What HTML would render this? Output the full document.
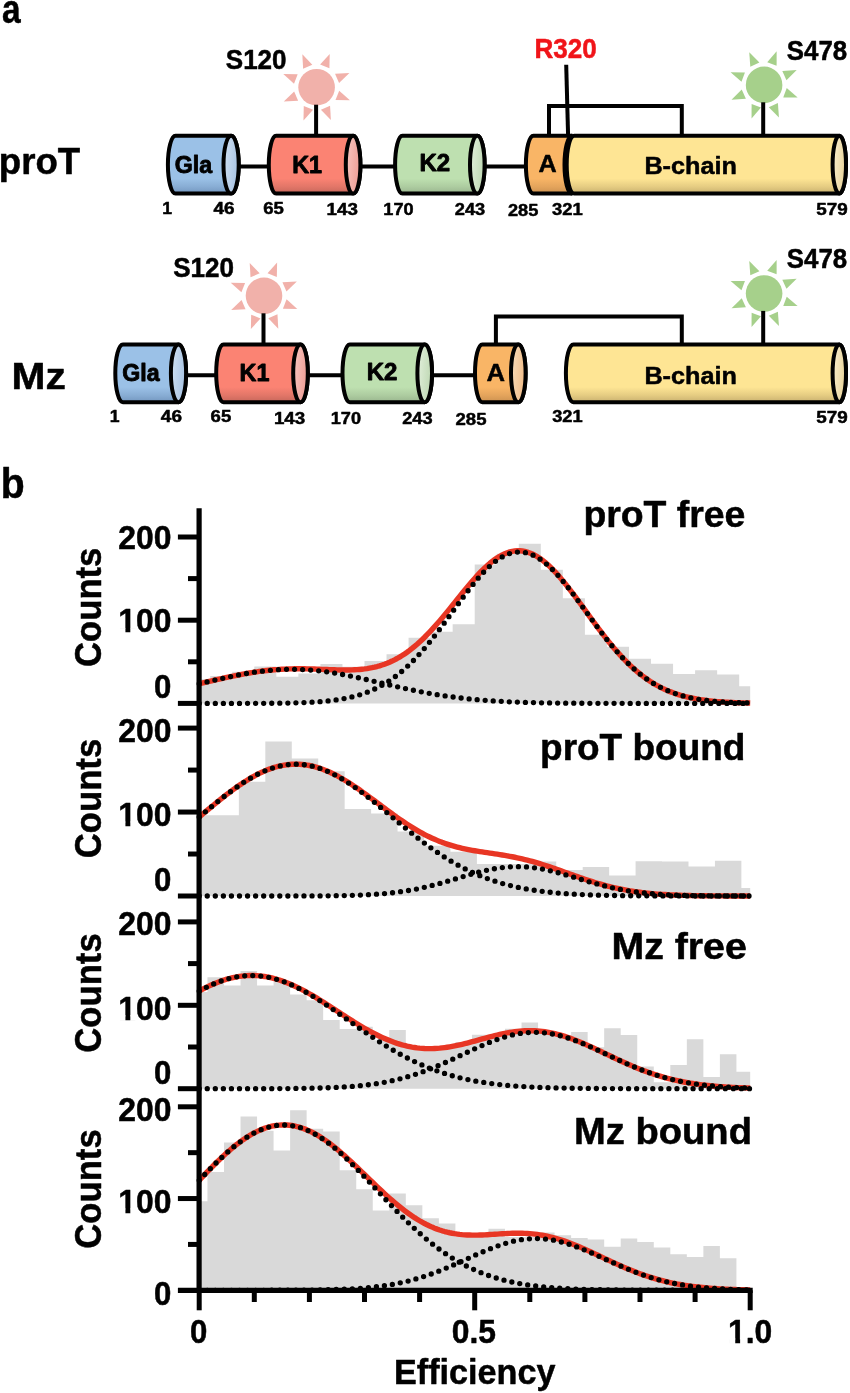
<!DOCTYPE html>
<html lang="en"><head><meta charset="utf-8"><title>Figure</title>
<style>html,body{margin:0;padding:0;background:#fff}svg{display:block;opacity:0.9999;will-change:transform}</style></head>
<body>
<svg width="850" height="1393" viewBox="0 0 850 1393" font-family="'Liberation Sans', Arial, Helvetica, sans-serif" font-weight="bold">
<defs>
<linearGradient id="gBlue" x1="0" y1="0" x2="0" y2="1"><stop offset="0" stop-color="#9bc1e7"/><stop offset="0.74" stop-color="#9bc1e7"/><stop offset="0.88" stop-color="#88add4"/><stop offset="1" stop-color="#7396bf"/></linearGradient>
<linearGradient id="gRed" x1="0" y1="0" x2="0" y2="1"><stop offset="0" stop-color="#fb8373"/><stop offset="0.74" stop-color="#fb8373"/><stop offset="0.88" stop-color="#e27668"/><stop offset="1" stop-color="#c6675b"/></linearGradient>
<linearGradient id="gGreen" x1="0" y1="0" x2="0" y2="1"><stop offset="0" stop-color="#bee0b0"/><stop offset="0.74" stop-color="#bee0b0"/><stop offset="0.88" stop-color="#adcca0"/><stop offset="1" stop-color="#99b58e"/></linearGradient>
<linearGradient id="gOr" x1="0" y1="0" x2="0" y2="1"><stop offset="0" stop-color="#f9b566"/><stop offset="0.74" stop-color="#f9b566"/><stop offset="0.88" stop-color="#e4a45c"/><stop offset="1" stop-color="#cc9150"/></linearGradient>
<linearGradient id="gYel" x1="0" y1="0" x2="0" y2="1"><stop offset="0" stop-color="#fee594"/><stop offset="0.74" stop-color="#fee594"/><stop offset="0.88" stop-color="#e5cc82"/><stop offset="1" stop-color="#c8b06f"/></linearGradient>
<linearGradient id="cBlue" x1="0" y1="0" x2="1" y2="0.3"><stop offset="0" stop-color="#d3e3f4"/><stop offset="1" stop-color="#a9c4e3"/></linearGradient>
<linearGradient id="cRed" x1="0" y1="0" x2="1" y2="0.3"><stop offset="0" stop-color="#f9c9c3"/><stop offset="1" stop-color="#ee9f97"/></linearGradient>
<linearGradient id="cGreen" x1="0" y1="0" x2="1" y2="0.3"><stop offset="0" stop-color="#e4f1de"/><stop offset="1" stop-color="#c0d9b5"/></linearGradient>
<linearGradient id="cOr" x1="0" y1="0" x2="1" y2="0.3"><stop offset="0" stop-color="#fadfbe"/><stop offset="1" stop-color="#f0bd8a"/></linearGradient>
<linearGradient id="cYel" x1="0" y1="0" x2="1" y2="0.3"><stop offset="0" stop-color="#fcf2d3"/><stop offset="1" stop-color="#e8d39b"/></linearGradient>
</defs>
<rect width="850" height="1393" fill="#fff"/>
<text x="2.05" y="22.77" font-size="40.29" fill="#000" stroke="#000" stroke-width="0.5" stroke-linejoin="round" textLength="18.61" lengthAdjust="spacingAndGlyphs" >a</text>
<text x="0.70" y="498.18" font-size="41.69" fill="#000" stroke="#000" stroke-width="0.5" stroke-linejoin="round" textLength="23.95" lengthAdjust="spacingAndGlyphs" >b</text>
<text x="-1.23" y="174.28" font-size="37.69" fill="#000" stroke="#000" stroke-width="0.5" stroke-linejoin="round" textLength="81.41" lengthAdjust="spacingAndGlyphs" >proT</text>
<line x1="236" y1="166.6" x2="270" y2="166.6" stroke="#000" stroke-width="4.0" stroke-linecap="butt"/>
<line x1="358" y1="166.6" x2="397" y2="166.6" stroke="#000" stroke-width="4.0" stroke-linecap="butt"/>
<line x1="483" y1="166.6" x2="528" y2="166.6" stroke="#000" stroke-width="4.0" stroke-linecap="butt"/>
<path d="M175.50,135.80 L231.10,135.80 A7.6,28.90 0 0 1 231.10,193.60 L175.50,193.60 A7.6,28.90 0 0 1 175.50,135.80 Z" fill="url(#gBlue)" stroke="#000" stroke-width="4.0" stroke-linejoin="round"/>
<ellipse cx="231.10" cy="164.70" rx="7.6" ry="28.90" fill="url(#cBlue)" stroke="#000" stroke-width="4.0"/>
<path d="M276.10,135.80 L353.10,135.80 A7.3,28.90 0 0 1 353.10,193.60 L276.10,193.60 A7.3,28.90 0 0 1 276.10,135.80 Z" fill="url(#gRed)" stroke="#000" stroke-width="4.0" stroke-linejoin="round"/>
<ellipse cx="353.10" cy="164.70" rx="7.3" ry="28.90" fill="url(#cRed)" stroke="#000" stroke-width="4.0"/>
<path d="M402.40,135.80 L477.30,135.80 A7.3,28.90 0 0 1 477.30,193.60 L402.40,193.60 A7.3,28.90 0 0 1 402.40,135.80 Z" fill="url(#gGreen)" stroke="#000" stroke-width="4.0" stroke-linejoin="round"/>
<ellipse cx="477.30" cy="164.70" rx="7.3" ry="28.90" fill="url(#cGreen)" stroke="#000" stroke-width="4.0"/>
<path d="M572.6,135.80 L533.40,135.80 A7.5,28.90 0 0 0 533.40,193.60 L572.6,193.60" fill="url(#gOr)" stroke="#000" stroke-width="4.0"/>
<path d="M572.0,135.80 A7.5,28.90 0 0 0 572.0,193.60" fill="none" stroke="#000" stroke-width="4.0"/>
<path d="M574.20,135.80 L839.30,135.80 A6.7,28.90 0 0 1 839.30,193.60 L574.20,193.60 A7.5,28.90 0 0 1 574.20,135.80 Z" fill="url(#gYel)" stroke="#000" stroke-width="4.0" stroke-linejoin="round"/>
<ellipse cx="839.30" cy="164.70" rx="6.7" ry="28.90" fill="url(#cYel)" stroke="#000" stroke-width="4.0"/>
<g fill="#f1b1aa">
<circle cx="316.6" cy="87.2" r="18.3"/>
<path d="M311.60,64.90 L321.60,64.90 L316.60,51.40 Z" transform="rotate(21.5 316.6 87.2)"/>
<path d="M311.60,64.90 L321.60,64.90 L316.60,51.40 Z" transform="rotate(66.5 316.6 87.2)"/>
<path d="M311.60,64.90 L321.60,64.90 L316.60,51.40 Z" transform="rotate(111.5 316.6 87.2)"/>
<path d="M311.60,64.90 L321.60,64.90 L316.60,51.40 Z" transform="rotate(156.5 316.6 87.2)"/>
<path d="M311.60,64.90 L321.60,64.90 L316.60,51.40 Z" transform="rotate(201.5 316.6 87.2)"/>
<path d="M311.60,64.90 L321.60,64.90 L316.60,51.40 Z" transform="rotate(246.5 316.6 87.2)"/>
<path d="M311.60,64.90 L321.60,64.90 L316.60,51.40 Z" transform="rotate(291.5 316.6 87.2)"/>
<path d="M311.60,64.90 L321.60,64.90 L316.60,51.40 Z" transform="rotate(336.5 316.6 87.2)"/>
</g>
<line x1="316.1" y1="104.7" x2="316.1" y2="135.8" stroke="#000" stroke-width="4.0" stroke-linecap="butt"/>
<g fill="#a6d08b">
<circle cx="764.1" cy="84.9" r="18.3"/>
<path d="M759.10,62.60 L769.10,62.60 L764.10,49.10 Z" transform="rotate(20.5 764.1 84.9)"/>
<path d="M759.10,62.60 L769.10,62.60 L764.10,49.10 Z" transform="rotate(65.5 764.1 84.9)"/>
<path d="M759.10,62.60 L769.10,62.60 L764.10,49.10 Z" transform="rotate(110.5 764.1 84.9)"/>
<path d="M759.10,62.60 L769.10,62.60 L764.10,49.10 Z" transform="rotate(155.5 764.1 84.9)"/>
<path d="M759.10,62.60 L769.10,62.60 L764.10,49.10 Z" transform="rotate(200.5 764.1 84.9)"/>
<path d="M759.10,62.60 L769.10,62.60 L764.10,49.10 Z" transform="rotate(245.5 764.1 84.9)"/>
<path d="M759.10,62.60 L769.10,62.60 L764.10,49.10 Z" transform="rotate(290.5 764.1 84.9)"/>
<path d="M759.10,62.60 L769.10,62.60 L764.10,49.10 Z" transform="rotate(335.5 764.1 84.9)"/>
</g>
<line x1="763.2" y1="102.3" x2="763.2" y2="135.8" stroke="#000" stroke-width="4.0" stroke-linecap="butt"/>
<text x="225.77" y="68.67" font-size="27.09" fill="#000" stroke="#000" stroke-width="0.5" stroke-linejoin="round" textLength="60.84" lengthAdjust="spacingAndGlyphs" >S120</text>
<text x="786.87" y="59.58" font-size="27.09" fill="#000" stroke="#000" stroke-width="0.5" stroke-linejoin="round" textLength="60.36" lengthAdjust="spacingAndGlyphs" >S478</text>
<text x="174.82" y="172.68" font-size="24.51" fill="#000" stroke="#000" stroke-width="0.9" stroke-linejoin="round" textLength="37.34" lengthAdjust="spacingAndGlyphs" >Gla</text>
<text x="292.13" y="172.88" font-size="24.51" fill="#000" stroke="#000" stroke-width="0.9" stroke-linejoin="round" textLength="29.88" lengthAdjust="spacingAndGlyphs" >K1</text>
<text x="419.39" y="171.28" font-size="24.51" fill="#000" stroke="#000" stroke-width="0.9" stroke-linejoin="round" textLength="30.70" lengthAdjust="spacingAndGlyphs" >K2</text>
<text x="644.41" y="174.47" font-size="24.59" fill="#000" stroke="#000" stroke-width="0.5" stroke-linejoin="round" textLength="92.51" lengthAdjust="spacingAndGlyphs" >B-chain</text>
<text x="162.39" y="213.88" font-size="17.09" fill="#000" stroke="#000" stroke-width="0.5" stroke-linejoin="round" textLength="9.82" lengthAdjust="spacingAndGlyphs" >1</text>
<text x="213.47" y="213.88" font-size="17.09" fill="#000" stroke="#000" stroke-width="0.5" stroke-linejoin="round" textLength="21.09" lengthAdjust="spacingAndGlyphs" >46</text>
<text x="263.20" y="213.88" font-size="17.09" fill="#000" stroke="#000" stroke-width="0.5" stroke-linejoin="round" textLength="20.66" lengthAdjust="spacingAndGlyphs" >65</text>
<text x="326.52" y="215.18" font-size="17.09" fill="#000" stroke="#000" stroke-width="0.5" stroke-linejoin="round" textLength="31.35" lengthAdjust="spacingAndGlyphs" >143</text>
<text x="383.36" y="214.97" font-size="17.09" fill="#000" stroke="#000" stroke-width="0.5" stroke-linejoin="round" textLength="30.28" lengthAdjust="spacingAndGlyphs" >170</text>
<text x="454.81" y="214.97" font-size="17.09" fill="#000" stroke="#000" stroke-width="0.5" stroke-linejoin="round" textLength="30.44" lengthAdjust="spacingAndGlyphs" >243</text>
<text x="816.18" y="214.88" font-size="17.09" fill="#000" stroke="#000" stroke-width="0.5" stroke-linejoin="round" textLength="31.49" lengthAdjust="spacingAndGlyphs" >579</text>
<path d="M549,135.8 L549,105.9 L681.8,105.9 L681.8,135.8" fill="none" stroke="#000" stroke-width="4.0" stroke-linejoin="miter"/>
<line x1="566.2" y1="64.7" x2="568.1" y2="135.8" stroke="#000" stroke-width="4.0" stroke-linecap="butt"/>
<text x="534.46" y="57.98" font-size="27.09" fill="#f01419" stroke="#f01419" stroke-width="0.5" stroke-linejoin="round" textLength="62.25" lengthAdjust="spacingAndGlyphs" >R320</text>
<text x="538.62" y="172.28" font-size="24.69" fill="#000" stroke="#000" stroke-width="0.5" stroke-linejoin="round" textLength="18.22" lengthAdjust="spacingAndGlyphs" >A</text>
<text x="508.01" y="215.97" font-size="17.09" fill="#000" stroke="#000" stroke-width="0.5" stroke-linejoin="round" textLength="30.36" lengthAdjust="spacingAndGlyphs" >285</text>
<text x="551.99" y="214.57" font-size="17.09" fill="#000" stroke="#000" stroke-width="0.5" stroke-linejoin="round" textLength="30.79" lengthAdjust="spacingAndGlyphs" >321</text>
<text x="11.50" y="389.48" font-size="37.29" fill="#000" stroke="#000" stroke-width="0.5" stroke-linejoin="round" textLength="54.29" lengthAdjust="spacingAndGlyphs" >Mz</text>
<line x1="183.4" y1="375.2" x2="217.4" y2="375.2" stroke="#000" stroke-width="4.0" stroke-linecap="butt"/>
<line x1="305.4" y1="375.2" x2="344.4" y2="375.2" stroke="#000" stroke-width="4.0" stroke-linecap="butt"/>
<line x1="430.4" y1="375.2" x2="477" y2="375.2" stroke="#000" stroke-width="4.0" stroke-linecap="butt"/>
<path d="M122.90,344.40 L178.50,344.40 A7.6,28.90 0 0 1 178.50,402.20 L122.90,402.20 A7.6,28.90 0 0 1 122.90,344.40 Z" fill="url(#gBlue)" stroke="#000" stroke-width="4.0" stroke-linejoin="round"/>
<ellipse cx="178.50" cy="373.30" rx="7.6" ry="28.90" fill="url(#cBlue)" stroke="#000" stroke-width="4.0"/>
<path d="M223.50,344.40 L300.50,344.40 A7.3,28.90 0 0 1 300.50,402.20 L223.50,402.20 A7.3,28.90 0 0 1 223.50,344.40 Z" fill="url(#gRed)" stroke="#000" stroke-width="4.0" stroke-linejoin="round"/>
<ellipse cx="300.50" cy="373.30" rx="7.3" ry="28.90" fill="url(#cRed)" stroke="#000" stroke-width="4.0"/>
<path d="M349.80,344.40 L424.70,344.40 A7.3,28.90 0 0 1 424.70,402.20 L349.80,402.20 A7.3,28.90 0 0 1 349.80,344.40 Z" fill="url(#gGreen)" stroke="#000" stroke-width="4.0" stroke-linejoin="round"/>
<ellipse cx="424.70" cy="373.30" rx="7.3" ry="28.90" fill="url(#cGreen)" stroke="#000" stroke-width="4.0"/>
<path d="M482.30,344.40 L518.30,344.40 A7.3,28.90 0 0 1 518.30,402.20 L482.30,402.20 A7.3,28.90 0 0 1 482.30,344.40 Z" fill="url(#gOr)" stroke="#000" stroke-width="4.0" stroke-linejoin="round"/>
<ellipse cx="518.30" cy="373.30" rx="7.3" ry="28.90" fill="url(#cOr)" stroke="#000" stroke-width="4.0"/>
<path d="M573.40,344.40 L839.30,344.40 A6.7,28.90 0 0 1 839.30,402.20 L573.40,402.20 A7.5,28.90 0 0 1 573.40,344.40 Z" fill="url(#gYel)" stroke="#000" stroke-width="4.0" stroke-linejoin="round"/>
<ellipse cx="839.30" cy="373.30" rx="6.7" ry="28.90" fill="url(#cYel)" stroke="#000" stroke-width="4.0"/>
<g fill="#f1b1aa">
<circle cx="264.0" cy="295.8" r="18.3"/>
<path d="M259.00,273.50 L269.00,273.50 L264.00,260.00 Z" transform="rotate(21.5 264.0 295.8)"/>
<path d="M259.00,273.50 L269.00,273.50 L264.00,260.00 Z" transform="rotate(66.5 264.0 295.8)"/>
<path d="M259.00,273.50 L269.00,273.50 L264.00,260.00 Z" transform="rotate(111.5 264.0 295.8)"/>
<path d="M259.00,273.50 L269.00,273.50 L264.00,260.00 Z" transform="rotate(156.5 264.0 295.8)"/>
<path d="M259.00,273.50 L269.00,273.50 L264.00,260.00 Z" transform="rotate(201.5 264.0 295.8)"/>
<path d="M259.00,273.50 L269.00,273.50 L264.00,260.00 Z" transform="rotate(246.5 264.0 295.8)"/>
<path d="M259.00,273.50 L269.00,273.50 L264.00,260.00 Z" transform="rotate(291.5 264.0 295.8)"/>
<path d="M259.00,273.50 L269.00,273.50 L264.00,260.00 Z" transform="rotate(336.5 264.0 295.8)"/>
</g>
<line x1="263.5" y1="313.3" x2="263.5" y2="344.4" stroke="#000" stroke-width="4.0" stroke-linecap="butt"/>
<g fill="#a6d08b">
<circle cx="764.1" cy="293.5" r="18.3"/>
<path d="M759.10,271.20 L769.10,271.20 L764.10,257.70 Z" transform="rotate(20.5 764.1 293.5)"/>
<path d="M759.10,271.20 L769.10,271.20 L764.10,257.70 Z" transform="rotate(65.5 764.1 293.5)"/>
<path d="M759.10,271.20 L769.10,271.20 L764.10,257.70 Z" transform="rotate(110.5 764.1 293.5)"/>
<path d="M759.10,271.20 L769.10,271.20 L764.10,257.70 Z" transform="rotate(155.5 764.1 293.5)"/>
<path d="M759.10,271.20 L769.10,271.20 L764.10,257.70 Z" transform="rotate(200.5 764.1 293.5)"/>
<path d="M759.10,271.20 L769.10,271.20 L764.10,257.70 Z" transform="rotate(245.5 764.1 293.5)"/>
<path d="M759.10,271.20 L769.10,271.20 L764.10,257.70 Z" transform="rotate(290.5 764.1 293.5)"/>
<path d="M759.10,271.20 L769.10,271.20 L764.10,257.70 Z" transform="rotate(335.5 764.1 293.5)"/>
</g>
<line x1="763.2" y1="310.9" x2="763.2" y2="344.4" stroke="#000" stroke-width="4.0" stroke-linecap="butt"/>
<text x="173.17" y="276.97" font-size="27.09" fill="#000" stroke="#000" stroke-width="0.5" stroke-linejoin="round" textLength="60.84" lengthAdjust="spacingAndGlyphs" >S120</text>
<text x="786.87" y="268.18" font-size="27.09" fill="#000" stroke="#000" stroke-width="0.5" stroke-linejoin="round" textLength="60.36" lengthAdjust="spacingAndGlyphs" >S478</text>
<text x="122.22" y="381.27" font-size="24.51" fill="#000" stroke="#000" stroke-width="0.9" stroke-linejoin="round" textLength="37.34" lengthAdjust="spacingAndGlyphs" >Gla</text>
<text x="239.53" y="381.47" font-size="24.51" fill="#000" stroke="#000" stroke-width="0.9" stroke-linejoin="round" textLength="29.88" lengthAdjust="spacingAndGlyphs" >K1</text>
<text x="366.79" y="379.88" font-size="24.51" fill="#000" stroke="#000" stroke-width="0.9" stroke-linejoin="round" textLength="30.70" lengthAdjust="spacingAndGlyphs" >K2</text>
<text x="644.41" y="383.68" font-size="24.59" fill="#000" stroke="#000" stroke-width="0.5" stroke-linejoin="round" textLength="92.51" lengthAdjust="spacingAndGlyphs" >B-chain</text>
<text x="109.79" y="422.48" font-size="17.09" fill="#000" stroke="#000" stroke-width="0.5" stroke-linejoin="round" textLength="9.82" lengthAdjust="spacingAndGlyphs" >1</text>
<text x="160.87" y="422.48" font-size="17.09" fill="#000" stroke="#000" stroke-width="0.5" stroke-linejoin="round" textLength="21.09" lengthAdjust="spacingAndGlyphs" >46</text>
<text x="210.60" y="422.48" font-size="17.09" fill="#000" stroke="#000" stroke-width="0.5" stroke-linejoin="round" textLength="20.66" lengthAdjust="spacingAndGlyphs" >65</text>
<text x="273.92" y="423.77" font-size="17.09" fill="#000" stroke="#000" stroke-width="0.5" stroke-linejoin="round" textLength="31.35" lengthAdjust="spacingAndGlyphs" >143</text>
<text x="330.76" y="423.57" font-size="17.09" fill="#000" stroke="#000" stroke-width="0.5" stroke-linejoin="round" textLength="30.28" lengthAdjust="spacingAndGlyphs" >170</text>
<text x="402.21" y="423.57" font-size="17.09" fill="#000" stroke="#000" stroke-width="0.5" stroke-linejoin="round" textLength="30.44" lengthAdjust="spacingAndGlyphs" >243</text>
<text x="816.18" y="423.48" font-size="17.09" fill="#000" stroke="#000" stroke-width="0.5" stroke-linejoin="round" textLength="31.49" lengthAdjust="spacingAndGlyphs" >579</text>
<path d="M495.9,344.4 L495.9,316.4 L681.8,316.4 L681.8,344.4" fill="none" stroke="#000" stroke-width="4.0" stroke-linejoin="miter"/>
<text x="486.61" y="381.07" font-size="24.69" fill="#000" stroke="#000" stroke-width="0.5" stroke-linejoin="round" textLength="18.54" lengthAdjust="spacingAndGlyphs" >A</text>
<text x="455.50" y="425.18" font-size="17.09" fill="#000" stroke="#000" stroke-width="0.5" stroke-linejoin="round" textLength="30.98" lengthAdjust="spacingAndGlyphs" >285</text>
<text x="552.19" y="422.48" font-size="17.09" fill="#000" stroke="#000" stroke-width="0.5" stroke-linejoin="round" textLength="30.48" lengthAdjust="spacingAndGlyphs" >321</text>
<path d="M199.20,703.40 L199.20,679.27 L210.22,679.27 L210.22,675.94 L232.26,675.94 L232.26,671.78 L254.30,671.78 L254.30,666.38 L276.34,666.38 L276.34,676.78 L298.38,676.78 L298.38,673.45 L320.42,673.45 L320.42,663.88 L342.46,663.88 L342.46,666.79 L364.50,666.79 L364.50,660.97 L386.54,660.97 L386.54,654.31 L408.58,654.31 L408.58,637.67 L430.62,637.67 L430.62,631.85 L452.66,631.85 L452.66,624.36 L474.70,624.36 L474.70,564.46 L496.74,564.46 L496.74,553.64 L518.78,553.64 L518.78,543.66 L540.82,543.66 L540.82,569.78 L562.86,569.78 L562.86,598.32 L584.90,598.32 L584.90,634.84 L606.94,634.84 L606.94,646.82 L628.98,646.82 L628.98,658.64 L651.02,658.64 L651.02,663.63 L673.06,663.63 L673.06,673.95 L695.10,673.95 L695.10,670.37 L717.14,670.37 L717.14,674.61 L739.18,674.61 L739.18,686.26 L750.20,686.26 L750.20,703.40 Z" fill="#d9d9d9"/>
<path d="M199.20,683.74 L201.70,683.15 L204.21,682.57 L206.71,681.98 L209.22,681.39 L211.72,680.81 L214.23,680.23 L216.73,679.65 L219.24,679.08 L221.74,678.51 L224.25,677.95 L226.75,677.40 L229.25,676.86 L231.76,676.33 L234.26,675.81 L236.77,675.30 L239.27,674.81 L241.78,674.33 L244.28,673.86 L246.79,673.42 L249.29,672.98 L251.80,672.57 L254.30,672.18 L256.80,671.80 L259.31,671.45 L261.81,671.11 L264.32,670.80 L266.82,670.51 L269.33,670.24 L271.83,670.00 L274.34,669.77 L276.84,669.57 L279.35,669.39 L281.85,669.24 L284.35,669.10 L286.86,668.99 L289.36,668.91 L291.87,668.84 L294.37,668.79 L296.88,668.77 L299.38,668.76 L301.89,668.77 L304.39,668.80 L306.90,668.84 L309.40,668.90 L311.90,668.97 L314.41,669.05 L316.91,669.14 L319.42,669.24 L321.92,669.34 L324.43,669.44 L326.93,669.54 L329.44,669.64 L331.94,669.74 L334.45,669.82 L336.95,669.89 L339.45,669.95 L341.96,669.99 L344.46,670.01 L346.97,670.00 L349.47,669.97 L351.98,669.90 L354.48,669.79 L356.99,669.64 L359.49,669.45 L362.00,669.21 L364.50,668.92 L367.00,668.57 L369.51,668.15 L372.01,667.68 L374.52,667.13 L377.02,666.51 L379.53,665.81 L382.03,665.04 L384.54,664.18 L387.04,663.23 L389.55,662.19 L392.05,661.06 L394.55,659.83 L397.06,658.51 L399.56,657.09 L402.07,655.56 L404.57,653.93 L407.08,652.20 L409.58,650.37 L412.09,648.43 L414.59,646.39 L417.10,644.25 L419.60,642.01 L422.10,639.68 L424.61,637.25 L427.11,634.72 L429.62,632.12 L432.12,629.43 L434.63,626.66 L437.13,623.83 L439.64,620.93 L442.14,617.97 L444.65,614.96 L447.15,611.91 L449.65,608.83 L452.16,605.73 L454.66,602.61 L457.17,599.49 L459.67,596.37 L462.18,593.27 L464.68,590.20 L467.19,587.17 L469.69,584.18 L472.20,581.26 L474.70,578.41 L477.20,575.64 L479.71,572.97 L482.21,570.41 L484.72,567.96 L487.22,565.63 L489.73,563.45 L492.23,561.41 L494.74,559.53 L497.24,557.81 L499.75,556.26 L502.25,554.89 L504.75,553.71 L507.26,552.72 L509.76,551.92 L512.27,551.33 L514.77,550.94 L517.28,550.75 L519.78,550.78 L522.29,551.01 L524.79,551.45 L527.30,552.09 L529.80,552.94 L532.30,553.99 L534.81,555.24 L537.31,556.68 L539.82,558.31 L542.32,560.12 L544.83,562.10 L547.33,564.25 L549.84,566.56 L552.34,569.01 L554.85,571.61 L557.35,574.33 L559.85,577.18 L562.36,580.14 L564.86,583.19 L567.37,586.34 L569.87,589.56 L572.38,592.85 L574.88,596.19 L577.39,599.58 L579.89,603.00 L582.40,606.44 L584.90,609.90 L587.40,613.37 L589.91,616.82 L592.41,620.26 L594.92,623.68 L597.42,627.06 L599.93,630.40 L602.43,633.69 L604.94,636.93 L607.44,640.11 L609.95,643.22 L612.45,646.26 L614.95,649.22 L617.46,652.10 L619.96,654.90 L622.47,657.60 L624.97,660.22 L627.48,662.75 L629.98,665.18 L632.49,667.51 L634.99,669.76 L637.50,671.90 L640.00,673.95 L642.50,675.91 L645.01,677.77 L647.51,679.54 L650.02,681.22 L652.52,682.81 L655.03,684.31 L657.53,685.73 L660.04,687.06 L662.54,688.32 L665.05,689.50 L667.55,690.60 L670.05,691.64 L672.56,692.60 L675.06,693.50 L677.57,694.34 L680.07,695.12 L682.58,695.84 L685.08,696.51 L687.59,697.13 L690.09,697.70 L692.60,698.23 L695.10,698.71 L697.60,699.16 L700.11,699.56 L702.61,699.94 L705.12,700.28 L707.62,700.59 L710.13,700.88 L712.63,701.14 L715.14,701.37 L717.64,701.58 L720.15,701.78 L722.65,701.95 L725.15,702.11 L727.66,702.25 L730.16,702.38 L732.67,702.49 L735.17,702.60 L737.68,702.69 L740.18,702.77 L742.69,702.85 L745.19,702.91 L747.70,702.97 L750.20,703.02" fill="none" stroke="#e83624" stroke-width="5.4" stroke-linecap="butt" stroke-linejoin="round"/>
<path d="M199.20,683.74 L201.70,683.16 L204.21,682.57 L206.71,681.98 L209.22,681.40 L211.72,680.81 L214.23,680.23 L216.73,679.65 L219.24,679.08 L221.74,678.52 L224.25,677.96 L226.75,677.41 L229.25,676.87 L231.76,676.34 L234.26,675.82 L236.77,675.32 L239.27,674.83 L241.78,674.35 L244.28,673.89 L246.79,673.45 L249.29,673.03 L251.80,672.62 L254.30,672.23 L256.80,671.87 L259.31,671.52 L261.81,671.20 L264.32,670.90 L266.82,670.63 L269.33,670.38 L271.83,670.15 L274.34,669.95 L276.84,669.77 L279.35,669.62 L281.85,669.50 L284.35,669.41 L286.86,669.34 L289.36,669.30 L291.87,669.29 L294.37,669.30 L296.88,669.35 L299.38,669.41 L301.89,669.51 L304.39,669.64 L306.90,669.79 L309.40,669.96 L311.90,670.17 L314.41,670.39 L316.91,670.65 L319.42,670.93 L321.92,671.23 L324.43,671.55 L326.93,671.90 L329.44,672.26 L331.94,672.65 L334.45,673.06 L336.95,673.49 L339.45,673.93 L341.96,674.39 L344.46,674.87 L346.97,675.36 L349.47,675.87 L351.98,676.38 L354.48,676.91 L356.99,677.45 L359.49,678.00 L362.00,678.56 L364.50,679.13 L367.00,679.70 L369.51,680.28 L372.01,680.86 L374.52,681.44 L377.02,682.03 L379.53,682.62 L382.03,683.20 L384.54,683.79 L387.04,684.38 L389.55,684.96 L392.05,685.54 L394.55,686.11 L397.06,686.68 L399.56,687.25 L402.07,687.80 L404.57,688.36 L407.08,688.90 L409.58,689.43 L412.09,689.96 L414.59,690.47 L417.10,690.98 L419.60,691.48 L422.10,691.96 L424.61,692.44 L427.11,692.90 L429.62,693.35 L432.12,693.79 L434.63,694.22 L437.13,694.64 L439.64,695.04 L442.14,695.44 L444.65,695.82 L447.15,696.18 L449.65,696.54 L452.16,696.88 L454.66,697.21 L457.17,697.53 L459.67,697.84 L462.18,698.13 L464.68,698.42 L467.19,698.69 L469.69,698.95 L472.20,699.20 L474.70,699.44 L477.20,699.67 L479.71,699.88 L482.21,700.09 L484.72,700.29 L487.22,700.48 L489.73,700.66 L492.23,700.83 L494.74,700.99 L497.24,701.14 L499.75,701.29 L502.25,701.43 L504.75,701.56 L507.26,701.68 L509.76,701.80 L512.27,701.91 L514.77,702.01 L517.28,702.11 L519.78,702.20 L522.29,702.28 L524.79,702.36 L527.30,702.44 L529.80,702.51 L532.30,702.58 L534.81,702.64 L537.31,702.69 L539.82,702.75 L542.32,702.80 L544.83,702.85 L547.33,702.89 L549.84,702.93 L552.34,702.97 L554.85,703.00 L557.35,703.04 L559.85,703.07 L562.36,703.09 L564.86,703.12 L567.37,703.14 L569.87,703.16 L572.38,703.18 L574.88,703.20 L577.39,703.22 L579.89,703.24 L582.40,703.25 L584.90,703.26 L587.40,703.28 L589.91,703.29 L592.41,703.30 L594.92,703.31 L597.42,703.32 L599.93,703.32 L602.43,703.33 L604.94,703.34 L607.44,703.34 L609.95,703.35 L612.45,703.35 L614.95,703.36 L617.46,703.36 L619.96,703.37 L622.47,703.37 L624.97,703.37 L627.48,703.38 L629.98,703.38 L632.49,703.38 L634.99,703.38 L637.50,703.38 L640.00,703.39 L642.50,703.39 L645.01,703.39 L647.51,703.39 L650.02,703.39 L652.52,703.39 L655.03,703.39 L657.53,703.39 L660.04,703.39 L662.54,703.40 L665.05,703.40 L667.55,703.40 L670.05,703.40 L672.56,703.40 L675.06,703.40 L677.57,703.40 L680.07,703.40 L682.58,703.40 L685.08,703.40 L687.59,703.40 L690.09,703.40 L692.60,703.40 L695.10,703.40 L697.60,703.40 L700.11,703.40 L702.61,703.40 L705.12,703.40 L707.62,703.40 L710.13,703.40 L712.63,703.40 L715.14,703.40 L717.64,703.40 L720.15,703.40 L722.65,703.40 L725.15,703.40 L727.66,703.40 L730.16,703.40 L732.67,703.40 L735.17,703.40 L737.68,703.40 L740.18,703.40 L742.69,703.40 L745.19,703.40 L747.70,703.40 L750.20,703.40" fill="none" stroke="#000" stroke-width="5.3" stroke-linecap="round" stroke-linejoin="round" stroke-dasharray="0 8.06"/>
<path d="M199.20,703.40 L201.70,703.40 L204.21,703.40 L206.71,703.40 L209.22,703.40 L211.72,703.40 L214.23,703.40 L216.73,703.39 L219.24,703.39 L221.74,703.39 L224.25,703.39 L226.75,703.39 L229.25,703.39 L231.76,703.39 L234.26,703.38 L236.77,703.38 L239.27,703.38 L241.78,703.37 L244.28,703.37 L246.79,703.36 L249.29,703.36 L251.80,703.35 L254.30,703.34 L256.80,703.33 L259.31,703.32 L261.81,703.31 L264.32,703.30 L266.82,703.28 L269.33,703.27 L271.83,703.25 L274.34,703.22 L276.84,703.20 L279.35,703.17 L281.85,703.13 L284.35,703.10 L286.86,703.05 L289.36,703.00 L291.87,702.95 L294.37,702.89 L296.88,702.82 L299.38,702.74 L301.89,702.66 L304.39,702.56 L306.90,702.45 L309.40,702.34 L311.90,702.20 L314.41,702.05 L316.91,701.89 L319.42,701.71 L321.92,701.51 L324.43,701.29 L326.93,701.05 L329.44,700.78 L331.94,700.48 L334.45,700.16 L336.95,699.81 L339.45,699.42 L341.96,699.00 L344.46,698.54 L346.97,698.04 L349.47,697.50 L351.98,696.91 L354.48,696.28 L356.99,695.59 L359.49,694.85 L362.00,694.05 L364.50,693.19 L367.00,692.27 L369.51,691.28 L372.01,690.22 L374.52,689.09 L377.02,687.88 L379.53,686.60 L382.03,685.23 L384.54,683.79 L387.04,682.25 L389.55,680.63 L392.05,678.92 L394.55,677.12 L397.06,675.23 L399.56,673.24 L402.07,671.16 L404.57,668.98 L407.08,666.70 L409.58,664.34 L412.09,661.87 L414.59,659.32 L417.10,656.67 L419.60,653.93 L422.10,651.11 L424.61,648.21 L427.11,645.22 L429.62,642.16 L432.12,639.03 L434.63,635.84 L437.13,632.59 L439.64,629.28 L442.14,625.93 L444.65,622.55 L447.15,619.13 L449.65,615.69 L452.16,612.25 L454.66,608.80 L457.17,605.36 L459.67,601.93 L462.18,598.54 L464.68,595.18 L467.19,591.88 L469.69,588.63 L472.20,585.46 L474.70,582.37 L477.20,579.38 L479.71,576.49 L482.21,573.71 L484.72,571.07 L487.22,568.56 L489.73,566.19 L492.23,563.98 L494.74,561.94 L497.24,560.06 L499.75,558.37 L502.25,556.86 L504.75,555.55 L507.26,554.44 L509.76,553.53 L512.27,552.82 L514.77,552.33 L517.28,552.05 L519.78,551.98 L522.29,552.12 L524.79,552.48 L527.30,553.05 L529.80,553.83 L532.30,554.82 L534.81,556.00 L537.31,557.39 L539.82,558.96 L542.32,560.72 L544.83,562.65 L547.33,564.76 L549.84,567.03 L552.34,569.44 L554.85,572.00 L557.35,574.70 L559.85,577.52 L562.36,580.44 L564.86,583.47 L567.37,586.59 L569.87,589.79 L572.38,593.06 L574.88,596.39 L577.39,599.76 L579.89,603.16 L582.40,606.59 L584.90,610.04 L587.40,613.49 L589.91,616.93 L592.41,620.36 L594.92,623.77 L597.42,627.14 L599.93,630.48 L602.43,633.76 L604.94,637.00 L607.44,640.17 L609.95,643.27 L612.45,646.31 L614.95,649.26 L617.46,652.14 L619.96,654.93 L622.47,657.63 L624.97,660.25 L627.48,662.77 L629.98,665.20 L632.49,667.53 L634.99,669.77 L637.50,671.92 L640.00,673.97 L642.50,675.92 L645.01,677.78 L647.51,679.55 L650.02,681.23 L652.52,682.81 L655.03,684.32 L657.53,685.73 L660.04,687.07 L662.54,688.32 L665.05,689.50 L667.55,690.61 L670.05,691.64 L672.56,692.61 L675.06,693.51 L677.57,694.34 L680.07,695.12 L682.58,695.84 L685.08,696.51 L687.59,697.13 L690.09,697.70 L692.60,698.23 L695.10,698.71 L697.60,699.16 L700.11,699.57 L702.61,699.94 L705.12,700.28 L707.62,700.59 L710.13,700.88 L712.63,701.14 L715.14,701.37 L717.64,701.58 L720.15,701.78 L722.65,701.95 L725.15,702.11 L727.66,702.25 L730.16,702.38 L732.67,702.49 L735.17,702.60 L737.68,702.69 L740.18,702.77 L742.69,702.85 L745.19,702.91 L747.70,702.97 L750.20,703.02" fill="none" stroke="#000" stroke-width="5.3" stroke-linecap="round" stroke-linejoin="round" stroke-dasharray="0 8.06"/>
<text x="583.42" y="526.67" font-size="36.89" fill="#000" stroke="#000" stroke-width="0.5" stroke-linejoin="round" textLength="162.00" lengthAdjust="spacingAndGlyphs" >proT free</text>
<line x1="177.9" y1="537.00" x2="199.2" y2="537.00" stroke="#000" stroke-width="5.0" stroke-linecap="butt"/>
<line x1="188" y1="578.60" x2="199.2" y2="578.60" stroke="#000" stroke-width="5.0" stroke-linecap="butt"/>
<line x1="177.9" y1="620.20" x2="199.2" y2="620.20" stroke="#000" stroke-width="5.0" stroke-linecap="butt"/>
<line x1="188" y1="661.80" x2="199.2" y2="661.80" stroke="#000" stroke-width="5.0" stroke-linecap="butt"/>
<line x1="177.9" y1="703.40" x2="199.2" y2="703.40" stroke="#000" stroke-width="5.0" stroke-linecap="butt"/>
<text x="118.24" y="549.08" font-size="32.69" fill="#000" stroke="#000" stroke-width="0.5" stroke-linejoin="round" textLength="53.20" lengthAdjust="spacingAndGlyphs" >200</text>
<text x="118.24" y="632.48" font-size="32.69" fill="#000" stroke="#000" stroke-width="0.5" stroke-linejoin="round" textLength="53.19" lengthAdjust="spacingAndGlyphs" >100</text>
<rect x="119.25" y="628.04" width="6.18" height="5.64" fill="#fff"/>
<rect x="130.31" y="628.04" width="5.78" height="5.64" fill="#fff"/>
<text x="154.01" y="697.98" font-size="32.69" fill="#000" stroke="#000" stroke-width="0.5" stroke-linejoin="round" textLength="17.32" lengthAdjust="spacingAndGlyphs" >0</text>
<text x="0" y="0" font-size="37.6" stroke="#000" stroke-width="0.5" text-anchor="middle" textLength="119.34" lengthAdjust="spacingAndGlyphs" transform="translate(101 607.3) rotate(-90)">Counts</text>
<path d="M199.20,896.00 L199.20,815.16 L212.42,815.16 L212.42,815.16 L238.87,815.16 L238.87,781.83 L265.32,781.83 L265.32,741.53 L291.77,741.53 L291.77,758.49 L318.22,758.49 L318.22,771.25 L344.66,771.25 L344.66,808.94 L371.11,808.94 L371.11,813.39 L397.56,813.39 L397.56,831.61 L424.01,831.61 L424.01,845.63 L450.46,845.63 L450.46,851.84 L476.90,851.84 L476.90,864.10 L503.35,864.10 L503.35,864.10 L529.80,864.10 L529.80,861.58 L556.25,861.58 L556.25,869.98 L582.70,869.98 L582.70,867.04 L609.14,867.04 L609.14,875.43 L635.59,875.43 L635.59,861.16 L662.04,861.16 L662.04,861.58 L688.49,861.58 L688.49,866.62 L714.94,866.62 L714.94,860.74 L741.38,860.74 L741.38,887.94 L750.20,887.94 L750.20,896.00 Z" fill="#d9d9d9"/>
<path d="M199.20,816.98 L201.70,814.88 L204.21,812.78 L206.71,810.69 L209.22,808.60 L211.72,806.53 L214.23,804.47 L216.73,802.42 L219.24,800.40 L221.74,798.40 L224.25,796.42 L226.75,794.48 L229.25,792.57 L231.76,790.70 L234.26,788.86 L236.77,787.07 L239.27,785.33 L241.78,783.64 L244.28,781.99 L246.79,780.41 L249.29,778.88 L251.80,777.42 L254.30,776.02 L256.80,774.69 L259.31,773.42 L261.81,772.23 L264.32,771.12 L266.82,770.08 L269.33,769.12 L271.83,768.24 L274.34,767.44 L276.84,766.72 L279.35,766.10 L281.85,765.56 L284.35,765.10 L286.86,764.74 L289.36,764.46 L291.87,764.28 L294.37,764.18 L296.88,764.18 L299.38,764.27 L301.89,764.44 L304.39,764.71 L306.90,765.06 L309.40,765.50 L311.90,766.03 L314.41,766.65 L316.91,767.34 L319.42,768.13 L321.92,768.99 L324.43,769.93 L326.93,770.94 L329.44,772.03 L331.94,773.20 L334.45,774.43 L336.95,775.72 L339.45,777.08 L341.96,778.50 L344.46,779.98 L346.97,781.51 L349.47,783.09 L351.98,784.71 L354.48,786.38 L356.99,788.09 L359.49,789.83 L362.00,791.60 L364.50,793.40 L367.00,795.22 L369.51,797.06 L372.01,798.91 L374.52,800.78 L377.02,802.65 L379.53,804.52 L382.03,806.39 L384.54,808.26 L387.04,810.12 L389.55,811.96 L392.05,813.79 L394.55,815.59 L397.06,817.37 L399.56,819.13 L402.07,820.85 L404.57,822.54 L407.08,824.19 L409.58,825.81 L412.09,827.38 L414.59,828.90 L417.10,830.38 L419.60,831.81 L422.10,833.19 L424.61,834.53 L427.11,835.80 L429.62,837.03 L432.12,838.20 L434.63,839.32 L437.13,840.38 L439.64,841.39 L442.14,842.35 L444.65,843.25 L447.15,844.10 L449.65,844.91 L452.16,845.67 L454.66,846.38 L457.17,847.04 L459.67,847.67 L462.18,848.26 L464.68,848.81 L467.19,849.33 L469.69,849.81 L472.20,850.28 L474.70,850.72 L477.20,851.13 L479.71,851.54 L482.21,851.93 L484.72,852.31 L487.22,852.68 L489.73,853.05 L492.23,853.42 L494.74,853.80 L497.24,854.18 L499.75,854.57 L502.25,854.98 L504.75,855.40 L507.26,855.83 L509.76,856.29 L512.27,856.77 L514.77,857.27 L517.28,857.79 L519.78,858.34 L522.29,858.92 L524.79,859.52 L527.30,860.15 L529.80,860.80 L532.30,861.48 L534.81,862.19 L537.31,862.92 L539.82,863.68 L542.32,864.46 L544.83,865.25 L547.33,866.07 L549.84,866.91 L552.34,867.76 L554.85,868.63 L557.35,869.50 L559.85,870.39 L562.36,871.28 L564.86,872.18 L567.37,873.08 L569.87,873.98 L572.38,874.88 L574.88,875.77 L577.39,876.65 L579.89,877.53 L582.40,878.39 L584.90,879.24 L587.40,880.07 L589.91,880.89 L592.41,881.69 L594.92,882.47 L597.42,883.23 L599.93,883.96 L602.43,884.67 L604.94,885.36 L607.44,886.02 L609.95,886.66 L612.45,887.27 L614.95,887.85 L617.46,888.41 L619.96,888.94 L622.47,889.45 L624.97,889.93 L627.48,890.38 L629.98,890.81 L632.49,891.22 L634.99,891.60 L637.50,891.95 L640.00,892.29 L642.50,892.60 L645.01,892.89 L647.51,893.16 L650.02,893.42 L652.52,893.65 L655.03,893.87 L657.53,894.07 L660.04,894.25 L662.54,894.42 L665.05,894.57 L667.55,894.72 L670.05,894.85 L672.56,894.97 L675.06,895.07 L677.57,895.17 L680.07,895.26 L682.58,895.34 L685.08,895.41 L687.59,895.48 L690.09,895.54 L692.60,895.59 L695.10,895.64 L697.60,895.68 L700.11,895.72 L702.61,895.75 L705.12,895.78 L707.62,895.81 L710.13,895.83 L712.63,895.86 L715.14,895.87 L717.64,895.89 L720.15,895.90 L722.65,895.92 L725.15,895.93 L727.66,895.94 L730.16,895.95 L732.67,895.95 L735.17,895.96 L737.68,895.97 L740.18,895.97 L742.69,895.98 L745.19,895.98 L747.70,895.98 L750.20,895.98" fill="none" stroke="#e83624" stroke-width="5.4" stroke-linecap="butt" stroke-linejoin="round"/>
<path d="M199.20,816.98 L201.70,814.88 L204.21,812.78 L206.71,810.69 L209.22,808.60 L211.72,806.53 L214.23,804.47 L216.73,802.42 L219.24,800.40 L221.74,798.40 L224.25,796.42 L226.75,794.48 L229.25,792.57 L231.76,790.70 L234.26,788.86 L236.77,787.07 L239.27,785.33 L241.78,783.64 L244.28,782.00 L246.79,780.41 L249.29,778.88 L251.80,777.42 L254.30,776.02 L256.80,774.69 L259.31,773.42 L261.81,772.23 L264.32,771.12 L266.82,770.08 L269.33,769.12 L271.83,768.24 L274.34,767.44 L276.84,766.73 L279.35,766.11 L281.85,765.57 L284.35,765.12 L286.86,764.75 L289.36,764.48 L291.87,764.30 L294.37,764.21 L296.88,764.21 L299.38,764.30 L301.89,764.48 L304.39,764.75 L306.90,765.12 L309.40,765.57 L311.90,766.11 L314.41,766.73 L316.91,767.44 L319.42,768.24 L321.92,769.12 L324.43,770.08 L326.93,771.12 L329.44,772.23 L331.94,773.42 L334.45,774.69 L336.95,776.02 L339.45,777.42 L341.96,778.88 L344.46,780.41 L346.97,782.00 L349.47,783.64 L351.98,785.33 L354.48,787.07 L356.99,788.86 L359.49,790.70 L362.00,792.57 L364.50,794.48 L367.00,796.42 L369.51,798.40 L372.01,800.40 L374.52,802.42 L377.02,804.47 L379.53,806.53 L382.03,808.60 L384.54,810.69 L387.04,812.78 L389.55,814.88 L392.05,816.98 L394.55,819.08 L397.06,821.18 L399.56,823.26 L402.07,825.34 L404.57,827.41 L407.08,829.46 L409.58,831.50 L412.09,833.51 L414.59,835.51 L417.10,837.48 L419.60,839.43 L422.10,841.35 L424.61,843.24 L427.11,845.10 L429.62,846.93 L432.12,848.72 L434.63,850.48 L437.13,852.21 L439.64,853.90 L442.14,855.55 L444.65,857.17 L447.15,858.74 L449.65,860.28 L452.16,861.77 L454.66,863.23 L457.17,864.65 L459.67,866.02 L462.18,867.36 L464.68,868.65 L467.19,869.91 L469.69,871.12 L472.20,872.29 L474.70,873.43 L477.20,874.52 L479.71,875.58 L482.21,876.60 L484.72,877.57 L487.22,878.52 L489.73,879.42 L492.23,880.29 L494.74,881.12 L497.24,881.92 L499.75,882.69 L502.25,883.42 L504.75,884.12 L507.26,884.79 L509.76,885.43 L512.27,886.04 L514.77,886.62 L517.28,887.17 L519.78,887.70 L522.29,888.20 L524.79,888.67 L527.30,889.12 L529.80,889.55 L532.30,889.96 L534.81,890.34 L537.31,890.70 L539.82,891.05 L542.32,891.37 L544.83,891.68 L547.33,891.97 L549.84,892.24 L552.34,892.49 L554.85,892.73 L557.35,892.96 L559.85,893.17 L562.36,893.37 L564.86,893.56 L567.37,893.73 L569.87,893.90 L572.38,894.05 L574.88,894.20 L577.39,894.33 L579.89,894.46 L582.40,894.57 L584.90,894.68 L587.40,894.78 L589.91,894.88 L592.41,894.97 L594.92,895.05 L597.42,895.12 L599.93,895.19 L602.43,895.26 L604.94,895.32 L607.44,895.37 L609.95,895.43 L612.45,895.47 L614.95,895.52 L617.46,895.56 L619.96,895.60 L622.47,895.63 L624.97,895.66 L627.48,895.69 L629.98,895.72 L632.49,895.74 L634.99,895.77 L637.50,895.79 L640.00,895.81 L642.50,895.82 L645.01,895.84 L647.51,895.86 L650.02,895.87 L652.52,895.88 L655.03,895.89 L657.53,895.90 L660.04,895.91 L662.54,895.92 L665.05,895.93 L667.55,895.93 L670.05,895.94 L672.56,895.95 L675.06,895.95 L677.57,895.96 L680.07,895.96 L682.58,895.97 L685.08,895.97 L687.59,895.97 L690.09,895.97 L692.60,895.98 L695.10,895.98 L697.60,895.98 L700.11,895.98 L702.61,895.99 L705.12,895.99 L707.62,895.99 L710.13,895.99 L712.63,895.99 L715.14,895.99 L717.64,895.99 L720.15,895.99 L722.65,895.99 L725.15,895.99 L727.66,896.00 L730.16,896.00 L732.67,896.00 L735.17,896.00 L737.68,896.00 L740.18,896.00 L742.69,896.00 L745.19,896.00 L747.70,896.00 L750.20,896.00" fill="none" stroke="#000" stroke-width="5.3" stroke-linecap="round" stroke-linejoin="round" stroke-dasharray="0 8.06"/>
<path d="M199.20,896.00 L201.70,896.00 L204.21,896.00 L206.71,896.00 L209.22,896.00 L211.72,896.00 L214.23,896.00 L216.73,896.00 L219.24,896.00 L221.74,896.00 L224.25,896.00 L226.75,896.00 L229.25,896.00 L231.76,896.00 L234.26,896.00 L236.77,896.00 L239.27,896.00 L241.78,896.00 L244.28,896.00 L246.79,896.00 L249.29,896.00 L251.80,896.00 L254.30,896.00 L256.80,896.00 L259.31,896.00 L261.81,896.00 L264.32,896.00 L266.82,896.00 L269.33,896.00 L271.83,895.99 L274.34,895.99 L276.84,895.99 L279.35,895.99 L281.85,895.99 L284.35,895.99 L286.86,895.98 L289.36,895.98 L291.87,895.98 L294.37,895.97 L296.88,895.97 L299.38,895.96 L301.89,895.96 L304.39,895.95 L306.90,895.94 L309.40,895.93 L311.90,895.92 L314.41,895.91 L316.91,895.90 L319.42,895.88 L321.92,895.87 L324.43,895.85 L326.93,895.82 L329.44,895.80 L331.94,895.77 L334.45,895.74 L336.95,895.70 L339.45,895.66 L341.96,895.62 L344.46,895.57 L346.97,895.51 L349.47,895.45 L351.98,895.38 L354.48,895.31 L356.99,895.22 L359.49,895.13 L362.00,895.03 L364.50,894.92 L367.00,894.79 L369.51,894.66 L372.01,894.51 L374.52,894.35 L377.02,894.18 L379.53,893.99 L382.03,893.79 L384.54,893.57 L387.04,893.33 L389.55,893.08 L392.05,892.80 L394.55,892.51 L397.06,892.20 L399.56,891.86 L402.07,891.51 L404.57,891.13 L407.08,890.73 L409.58,890.31 L412.09,889.86 L414.59,889.39 L417.10,888.90 L419.60,888.39 L422.10,887.85 L424.61,887.29 L427.11,886.71 L429.62,886.10 L432.12,885.48 L434.63,884.83 L437.13,884.17 L439.64,883.49 L442.14,882.79 L444.65,882.08 L447.15,881.36 L449.65,880.63 L452.16,879.89 L454.66,879.15 L457.17,878.40 L459.67,877.65 L462.18,876.90 L464.68,876.16 L467.19,875.42 L469.69,874.69 L472.20,873.98 L474.70,873.29 L477.20,872.61 L479.71,871.96 L482.21,871.33 L484.72,870.73 L487.22,870.16 L489.73,869.63 L492.23,869.13 L494.74,868.67 L497.24,868.26 L499.75,867.88 L502.25,867.55 L504.75,867.27 L507.26,867.04 L509.76,866.86 L512.27,866.73 L514.77,866.65 L517.28,866.62 L519.78,866.64 L522.29,866.72 L524.79,866.84 L527.30,867.02 L529.80,867.25 L532.30,867.52 L534.81,867.85 L537.31,868.22 L539.82,868.63 L542.32,869.08 L544.83,869.58 L547.33,870.11 L549.84,870.67 L552.34,871.27 L554.85,871.89 L557.35,872.55 L559.85,873.22 L562.36,873.91 L564.86,874.62 L567.37,875.35 L569.87,876.08 L572.38,876.82 L574.88,877.57 L577.39,878.32 L579.89,879.07 L582.40,879.82 L584.90,880.56 L587.40,881.29 L589.91,882.01 L592.41,882.72 L594.92,883.42 L597.42,884.10 L599.93,884.77 L602.43,885.41 L604.94,886.04 L607.44,886.65 L609.95,887.23 L612.45,887.79 L614.95,888.33 L617.46,888.85 L619.96,889.35 L622.47,889.82 L624.97,890.27 L627.48,890.69 L629.98,891.09 L632.49,891.47 L634.99,891.83 L637.50,892.17 L640.00,892.48 L642.50,892.78 L645.01,893.05 L647.51,893.31 L650.02,893.55 L652.52,893.77 L655.03,893.97 L657.53,894.16 L660.04,894.34 L662.54,894.50 L665.05,894.65 L667.55,894.78 L670.05,894.91 L672.56,895.02 L675.06,895.12 L677.57,895.21 L680.07,895.30 L682.58,895.38 L685.08,895.45 L687.59,895.51 L690.09,895.56 L692.60,895.61 L695.10,895.66 L697.60,895.70 L700.11,895.74 L702.61,895.77 L705.12,895.80 L707.62,895.82 L710.13,895.84 L712.63,895.86 L715.14,895.88 L717.64,895.90 L720.15,895.91 L722.65,895.92 L725.15,895.93 L727.66,895.94 L730.16,895.95 L732.67,895.96 L735.17,895.96 L737.68,895.97 L740.18,895.97 L742.69,895.98 L745.19,895.98 L747.70,895.98 L750.20,895.99" fill="none" stroke="#000" stroke-width="5.3" stroke-linecap="round" stroke-linejoin="round" stroke-dasharray="0 8.06"/>
<text x="540.05" y="759.77" font-size="36.89" fill="#000" stroke="#000" stroke-width="0.5" stroke-linejoin="round" textLength="205.36" lengthAdjust="spacingAndGlyphs" >proT bound</text>
<line x1="177.9" y1="728.10" x2="199.2" y2="728.10" stroke="#000" stroke-width="5.0" stroke-linecap="butt"/>
<line x1="188" y1="770.08" x2="199.2" y2="770.08" stroke="#000" stroke-width="5.0" stroke-linecap="butt"/>
<line x1="177.9" y1="812.05" x2="199.2" y2="812.05" stroke="#000" stroke-width="5.0" stroke-linecap="butt"/>
<line x1="188" y1="854.02" x2="199.2" y2="854.02" stroke="#000" stroke-width="5.0" stroke-linecap="butt"/>
<line x1="177.9" y1="896.00" x2="199.2" y2="896.00" stroke="#000" stroke-width="5.0" stroke-linecap="butt"/>
<text x="118.24" y="741.98" font-size="32.69" fill="#000" stroke="#000" stroke-width="0.5" stroke-linejoin="round" textLength="53.20" lengthAdjust="spacingAndGlyphs" >200</text>
<text x="118.24" y="825.98" font-size="32.69" fill="#000" stroke="#000" stroke-width="0.5" stroke-linejoin="round" textLength="53.19" lengthAdjust="spacingAndGlyphs" >100</text>
<rect x="119.25" y="821.54" width="6.18" height="5.64" fill="#fff"/>
<rect x="130.31" y="821.54" width="5.78" height="5.64" fill="#fff"/>
<text x="154.01" y="891.48" font-size="32.69" fill="#000" stroke="#000" stroke-width="0.5" stroke-linejoin="round" textLength="17.32" lengthAdjust="spacingAndGlyphs" >0</text>
<text x="0" y="0" font-size="37.6" stroke="#000" stroke-width="0.5" text-anchor="middle" textLength="119.34" lengthAdjust="spacingAndGlyphs" transform="translate(101 798.5) rotate(-90)">Counts</text>
<path d="M199.20,1088.70 L199.20,991.96 L207.46,991.96 L207.46,977.19 L223.99,977.19 L223.99,985.45 L240.52,985.45 L240.52,971.11 L257.06,971.11 L257.06,985.45 L273.58,985.45 L273.58,981.95 L290.12,981.95 L290.12,994.46 L306.64,994.46 L306.64,1000.30 L323.17,1000.30 L323.17,1020.06 L339.70,1020.06 L339.70,1029.07 L356.24,1029.07 L356.24,1026.65 L372.76,1026.65 L372.76,1040.33 L389.29,1040.33 L389.29,1029.90 L405.82,1029.90 L405.82,1047.00 L422.35,1047.00 L422.35,1048.67 L438.88,1048.67 L438.88,1047.00 L455.41,1047.00 L455.41,1042.00 L471.94,1042.00 L471.94,1034.82 L488.48,1034.82 L488.48,1036.49 L505.00,1036.49 L505.00,1028.74 L521.53,1028.74 L521.53,1022.48 L538.07,1022.48 L538.07,1031.99 L554.60,1031.99 L554.60,1034.91 L571.12,1034.91 L571.12,1031.99 L587.65,1031.99 L587.65,1047.33 L604.18,1047.33 L604.18,1028.32 L620.71,1028.32 L620.71,1035.07 L637.24,1035.07 L637.24,1066.43 L653.77,1066.43 L653.77,1082.28 L670.31,1082.28 L670.31,1064.93 L686.84,1064.93 L686.84,1039.33 L703.37,1039.33 L703.37,1077.02 L719.89,1077.02 L719.89,1054.17 L736.42,1054.17 L736.42,1071.69 L750.20,1071.69 L750.20,1088.70 Z" fill="#d9d9d9"/>
<path d="M199.20,991.03 L201.70,989.68 L204.21,988.37 L206.71,987.12 L209.22,985.92 L211.72,984.77 L214.23,983.69 L216.73,982.66 L219.24,981.70 L221.74,980.80 L224.25,979.97 L226.75,979.20 L229.25,978.50 L231.76,977.88 L234.26,977.32 L236.77,976.84 L239.27,976.43 L241.78,976.09 L244.28,975.83 L246.79,975.64 L249.29,975.53 L251.80,975.50 L254.30,975.54 L256.80,975.66 L259.31,975.85 L261.81,976.12 L264.32,976.46 L266.82,976.88 L269.33,977.37 L271.83,977.93 L274.34,978.56 L276.84,979.26 L279.35,980.03 L281.85,980.86 L284.35,981.75 L286.86,982.71 L289.36,983.73 L291.87,984.81 L294.37,985.94 L296.88,987.12 L299.38,988.35 L301.89,989.64 L304.39,990.96 L306.90,992.33 L309.40,993.74 L311.90,995.18 L314.41,996.66 L316.91,998.17 L319.42,999.70 L321.92,1001.26 L324.43,1002.84 L326.93,1004.44 L329.44,1006.05 L331.94,1007.67 L334.45,1009.30 L336.95,1010.93 L339.45,1012.56 L341.96,1014.19 L344.46,1015.82 L346.97,1017.43 L349.47,1019.04 L351.98,1020.62 L354.48,1022.19 L356.99,1023.74 L359.49,1025.26 L362.00,1026.76 L364.50,1028.22 L367.00,1029.65 L369.51,1031.05 L372.01,1032.40 L374.52,1033.72 L377.02,1034.99 L379.53,1036.21 L382.03,1037.39 L384.54,1038.52 L387.04,1039.59 L389.55,1040.61 L392.05,1041.57 L394.55,1042.47 L397.06,1043.32 L399.56,1044.10 L402.07,1044.83 L404.57,1045.49 L407.08,1046.09 L409.58,1046.62 L412.09,1047.10 L414.59,1047.50 L417.10,1047.85 L419.60,1048.13 L422.10,1048.34 L424.61,1048.50 L427.11,1048.59 L429.62,1048.62 L432.12,1048.59 L434.63,1048.50 L437.13,1048.36 L439.64,1048.16 L442.14,1047.90 L444.65,1047.60 L447.15,1047.25 L449.65,1046.85 L452.16,1046.41 L454.66,1045.93 L457.17,1045.41 L459.67,1044.86 L462.18,1044.28 L464.68,1043.67 L467.19,1043.04 L469.69,1042.39 L472.20,1041.72 L474.70,1041.04 L477.20,1040.36 L479.71,1039.66 L482.21,1038.97 L484.72,1038.28 L487.22,1037.60 L489.73,1036.94 L492.23,1036.28 L494.74,1035.65 L497.24,1035.04 L499.75,1034.46 L502.25,1033.91 L504.75,1033.39 L507.26,1032.91 L509.76,1032.47 L512.27,1032.07 L514.77,1031.72 L517.28,1031.41 L519.78,1031.16 L522.29,1030.96 L524.79,1030.81 L527.30,1030.73 L529.80,1030.69 L532.30,1030.72 L534.81,1030.81 L537.31,1030.96 L539.82,1031.16 L542.32,1031.43 L544.83,1031.76 L547.33,1032.15 L549.84,1032.59 L552.34,1033.10 L554.85,1033.66 L557.35,1034.28 L559.85,1034.95 L562.36,1035.67 L564.86,1036.44 L567.37,1037.26 L569.87,1038.13 L572.38,1039.03 L574.88,1039.98 L577.39,1040.97 L579.89,1041.99 L582.40,1043.04 L584.90,1044.12 L587.40,1045.23 L589.91,1046.35 L592.41,1047.50 L594.92,1048.66 L597.42,1049.84 L599.93,1051.03 L602.43,1052.22 L604.94,1053.42 L607.44,1054.62 L609.95,1055.81 L612.45,1057.01 L614.95,1058.19 L617.46,1059.37 L619.96,1060.53 L622.47,1061.69 L624.97,1062.82 L627.48,1063.94 L629.98,1065.03 L632.49,1066.11 L634.99,1067.16 L637.50,1068.19 L640.00,1069.19 L642.50,1070.17 L645.01,1071.11 L647.51,1072.03 L650.02,1072.92 L652.52,1073.78 L655.03,1074.61 L657.53,1075.41 L660.04,1076.18 L662.54,1076.92 L665.05,1077.63 L667.55,1078.31 L670.05,1078.96 L672.56,1079.58 L675.06,1080.17 L677.57,1080.73 L680.07,1081.26 L682.58,1081.77 L685.08,1082.25 L687.59,1082.70 L690.09,1083.13 L692.60,1083.53 L695.10,1083.92 L697.60,1084.27 L700.11,1084.61 L702.61,1084.92 L705.12,1085.22 L707.62,1085.49 L710.13,1085.75 L712.63,1085.99 L715.14,1086.22 L717.64,1086.42 L720.15,1086.62 L722.65,1086.79 L725.15,1086.96 L727.66,1087.11 L730.16,1087.25 L732.67,1087.39 L735.17,1087.51 L737.68,1087.62 L740.18,1087.72 L742.69,1087.81 L745.19,1087.90 L747.70,1087.97 L750.20,1088.04" fill="none" stroke="#e83624" stroke-width="5.4" stroke-linecap="butt" stroke-linejoin="round"/>
<path d="M199.20,991.03 L201.70,989.68 L204.21,988.37 L206.71,987.12 L209.22,985.92 L211.72,984.78 L214.23,983.69 L216.73,982.67 L219.24,981.70 L221.74,980.81 L224.25,979.97 L226.75,979.21 L229.25,978.51 L231.76,977.88 L234.26,977.33 L236.77,976.85 L239.27,976.44 L241.78,976.11 L244.28,975.85 L246.79,975.66 L249.29,975.56 L251.80,975.53 L254.30,975.57 L256.80,975.69 L259.31,975.89 L261.81,976.17 L264.32,976.51 L266.82,976.94 L269.33,977.43 L271.83,978.00 L274.34,978.64 L276.84,979.35 L279.35,980.13 L281.85,980.98 L284.35,981.89 L286.86,982.87 L289.36,983.90 L291.87,985.00 L294.37,986.16 L296.88,987.37 L299.38,988.63 L301.89,989.95 L304.39,991.31 L306.90,992.72 L309.40,994.17 L311.90,995.66 L314.41,997.19 L316.91,998.76 L319.42,1000.36 L321.92,1001.99 L324.43,1003.65 L326.93,1005.33 L329.44,1007.03 L331.94,1008.75 L334.45,1010.49 L336.95,1012.25 L339.45,1014.01 L341.96,1015.78 L344.46,1017.56 L346.97,1019.34 L349.47,1021.13 L351.98,1022.91 L354.48,1024.69 L356.99,1026.46 L359.49,1028.22 L362.00,1029.97 L364.50,1031.71 L367.00,1033.44 L369.51,1035.15 L372.01,1036.84 L374.52,1038.52 L377.02,1040.17 L379.53,1041.80 L382.03,1043.40 L384.54,1044.98 L387.04,1046.53 L389.55,1048.06 L392.05,1049.55 L394.55,1051.02 L397.06,1052.46 L399.56,1053.86 L402.07,1055.23 L404.57,1056.58 L407.08,1057.88 L409.58,1059.16 L412.09,1060.40 L414.59,1061.61 L417.10,1062.78 L419.60,1063.92 L422.10,1065.02 L424.61,1066.09 L427.11,1067.13 L429.62,1068.13 L432.12,1069.10 L434.63,1070.04 L437.13,1070.94 L439.64,1071.82 L442.14,1072.65 L444.65,1073.46 L447.15,1074.24 L449.65,1074.99 L452.16,1075.70 L454.66,1076.39 L457.17,1077.05 L459.67,1077.68 L462.18,1078.29 L464.68,1078.86 L467.19,1079.42 L469.69,1079.94 L472.20,1080.45 L474.70,1080.92 L477.20,1081.38 L479.71,1081.81 L482.21,1082.23 L484.72,1082.62 L487.22,1082.99 L489.73,1083.34 L492.23,1083.68 L494.74,1084.00 L497.24,1084.30 L499.75,1084.58 L502.25,1084.85 L504.75,1085.10 L507.26,1085.34 L509.76,1085.56 L512.27,1085.77 L514.77,1085.97 L517.28,1086.16 L519.78,1086.34 L522.29,1086.50 L524.79,1086.66 L527.30,1086.80 L529.80,1086.94 L532.30,1087.07 L534.81,1087.19 L537.31,1087.30 L539.82,1087.40 L542.32,1087.50 L544.83,1087.59 L547.33,1087.68 L549.84,1087.75 L552.34,1087.83 L554.85,1087.90 L557.35,1087.96 L559.85,1088.02 L562.36,1088.07 L564.86,1088.12 L567.37,1088.17 L569.87,1088.21 L572.38,1088.25 L574.88,1088.29 L577.39,1088.32 L579.89,1088.36 L582.40,1088.39 L584.90,1088.41 L587.40,1088.44 L589.91,1088.46 L592.41,1088.48 L594.92,1088.50 L597.42,1088.52 L599.93,1088.53 L602.43,1088.55 L604.94,1088.56 L607.44,1088.58 L609.95,1088.59 L612.45,1088.60 L614.95,1088.61 L617.46,1088.62 L619.96,1088.62 L622.47,1088.63 L624.97,1088.64 L627.48,1088.64 L629.98,1088.65 L632.49,1088.65 L634.99,1088.66 L637.50,1088.66 L640.00,1088.67 L642.50,1088.67 L645.01,1088.67 L647.51,1088.68 L650.02,1088.68 L652.52,1088.68 L655.03,1088.68 L657.53,1088.68 L660.04,1088.69 L662.54,1088.69 L665.05,1088.69 L667.55,1088.69 L670.05,1088.69 L672.56,1088.69 L675.06,1088.69 L677.57,1088.69 L680.07,1088.69 L682.58,1088.69 L685.08,1088.70 L687.59,1088.70 L690.09,1088.70 L692.60,1088.70 L695.10,1088.70 L697.60,1088.70 L700.11,1088.70 L702.61,1088.70 L705.12,1088.70 L707.62,1088.70 L710.13,1088.70 L712.63,1088.70 L715.14,1088.70 L717.64,1088.70 L720.15,1088.70 L722.65,1088.70 L725.15,1088.70 L727.66,1088.70 L730.16,1088.70 L732.67,1088.70 L735.17,1088.70 L737.68,1088.70 L740.18,1088.70 L742.69,1088.70 L745.19,1088.70 L747.70,1088.70 L750.20,1088.70" fill="none" stroke="#000" stroke-width="5.3" stroke-linecap="round" stroke-linejoin="round" stroke-dasharray="0 8.06"/>
<path d="M199.20,1088.70 L201.70,1088.70 L204.21,1088.70 L206.71,1088.70 L209.22,1088.70 L211.72,1088.70 L214.23,1088.70 L216.73,1088.70 L219.24,1088.70 L221.74,1088.70 L224.25,1088.69 L226.75,1088.69 L229.25,1088.69 L231.76,1088.69 L234.26,1088.69 L236.77,1088.69 L239.27,1088.69 L241.78,1088.69 L244.28,1088.68 L246.79,1088.68 L249.29,1088.68 L251.80,1088.67 L254.30,1088.67 L256.80,1088.67 L259.31,1088.66 L261.81,1088.66 L264.32,1088.65 L266.82,1088.64 L269.33,1088.63 L271.83,1088.63 L274.34,1088.62 L276.84,1088.60 L279.35,1088.59 L281.85,1088.58 L284.35,1088.56 L286.86,1088.55 L289.36,1088.53 L291.87,1088.50 L294.37,1088.48 L296.88,1088.45 L299.38,1088.42 L301.89,1088.39 L304.39,1088.35 L306.90,1088.31 L309.40,1088.27 L311.90,1088.22 L314.41,1088.17 L316.91,1088.11 L319.42,1088.04 L321.92,1087.97 L324.43,1087.89 L326.93,1087.81 L329.44,1087.71 L331.94,1087.61 L334.45,1087.50 L336.95,1087.38 L339.45,1087.25 L341.96,1087.11 L344.46,1086.95 L346.97,1086.79 L349.47,1086.61 L351.98,1086.42 L354.48,1086.21 L356.99,1085.98 L359.49,1085.74 L362.00,1085.49 L364.50,1085.21 L367.00,1084.91 L369.51,1084.60 L372.01,1084.26 L374.52,1083.90 L377.02,1083.52 L379.53,1083.12 L382.03,1082.69 L384.54,1082.24 L387.04,1081.76 L389.55,1081.25 L392.05,1080.71 L394.55,1080.15 L397.06,1079.56 L399.56,1078.94 L402.07,1078.29 L404.57,1077.62 L407.08,1076.91 L409.58,1076.17 L412.09,1075.40 L414.59,1074.60 L417.10,1073.77 L419.60,1072.91 L422.10,1072.02 L424.61,1071.10 L427.11,1070.16 L429.62,1069.18 L432.12,1068.19 L434.63,1067.16 L437.13,1066.11 L439.64,1065.04 L442.14,1063.95 L444.65,1062.84 L447.15,1061.71 L449.65,1060.56 L452.16,1059.41 L454.66,1058.24 L457.17,1057.06 L459.67,1055.88 L462.18,1054.69 L464.68,1053.51 L467.19,1052.32 L469.69,1051.15 L472.20,1049.98 L474.70,1048.82 L477.20,1047.67 L479.71,1046.55 L482.21,1045.44 L484.72,1044.36 L487.22,1043.31 L489.73,1042.29 L492.23,1041.30 L494.74,1040.35 L497.24,1039.45 L499.75,1038.58 L502.25,1037.76 L504.75,1036.99 L507.26,1036.27 L509.76,1035.60 L512.27,1034.99 L514.77,1034.44 L517.28,1033.95 L519.78,1033.52 L522.29,1033.16 L524.79,1032.86 L527.30,1032.62 L529.80,1032.45 L532.30,1032.35 L534.81,1032.32 L537.31,1032.36 L539.82,1032.46 L542.32,1032.63 L544.83,1032.87 L547.33,1033.17 L549.84,1033.54 L552.34,1033.97 L554.85,1034.46 L557.35,1035.02 L559.85,1035.63 L562.36,1036.30 L564.86,1037.02 L567.37,1037.79 L569.87,1038.61 L572.38,1039.48 L574.88,1040.39 L577.39,1041.34 L579.89,1042.33 L582.40,1043.35 L584.90,1044.41 L587.40,1045.49 L589.91,1046.59 L592.41,1047.72 L594.92,1048.86 L597.42,1050.02 L599.93,1051.19 L602.43,1052.37 L604.94,1053.56 L607.44,1054.74 L609.95,1055.93 L612.45,1057.11 L614.95,1058.29 L617.46,1059.45 L619.96,1060.61 L622.47,1061.75 L624.97,1062.88 L627.48,1063.99 L629.98,1065.08 L632.49,1066.15 L634.99,1067.20 L637.50,1068.23 L640.00,1069.22 L642.50,1070.20 L645.01,1071.14 L647.51,1072.06 L650.02,1072.94 L652.52,1073.80 L655.03,1074.63 L657.53,1075.43 L660.04,1076.20 L662.54,1076.94 L665.05,1077.64 L667.55,1078.32 L670.05,1078.97 L672.56,1079.59 L675.06,1080.18 L677.57,1080.74 L680.07,1081.27 L682.58,1081.77 L685.08,1082.25 L687.59,1082.71 L690.09,1083.13 L692.60,1083.54 L695.10,1083.92 L697.60,1084.28 L700.11,1084.61 L702.61,1084.93 L705.12,1085.22 L707.62,1085.50 L710.13,1085.75 L712.63,1085.99 L715.14,1086.22 L717.64,1086.42 L720.15,1086.62 L722.65,1086.80 L725.15,1086.96 L727.66,1087.11 L730.16,1087.26 L732.67,1087.39 L735.17,1087.51 L737.68,1087.62 L740.18,1087.72 L742.69,1087.81 L745.19,1087.90 L747.70,1087.97 L750.20,1088.04" fill="none" stroke="#000" stroke-width="5.3" stroke-linecap="round" stroke-linejoin="round" stroke-dasharray="0 8.06"/>
<text x="611.50" y="959.38" font-size="36.89" fill="#000" stroke="#000" stroke-width="0.5" stroke-linejoin="round" textLength="135.24" lengthAdjust="spacingAndGlyphs" >Mz free</text>
<line x1="177.9" y1="921.90" x2="199.2" y2="921.90" stroke="#000" stroke-width="5.0" stroke-linecap="butt"/>
<line x1="188" y1="963.60" x2="199.2" y2="963.60" stroke="#000" stroke-width="5.0" stroke-linecap="butt"/>
<line x1="177.9" y1="1005.30" x2="199.2" y2="1005.30" stroke="#000" stroke-width="5.0" stroke-linecap="butt"/>
<line x1="188" y1="1047.00" x2="199.2" y2="1047.00" stroke="#000" stroke-width="5.0" stroke-linecap="butt"/>
<line x1="177.9" y1="1088.70" x2="199.2" y2="1088.70" stroke="#000" stroke-width="5.0" stroke-linecap="butt"/>
<text x="118.24" y="935.48" font-size="32.69" fill="#000" stroke="#000" stroke-width="0.5" stroke-linejoin="round" textLength="53.20" lengthAdjust="spacingAndGlyphs" >200</text>
<text x="118.24" y="1019.68" font-size="32.69" fill="#000" stroke="#000" stroke-width="0.5" stroke-linejoin="round" textLength="53.19" lengthAdjust="spacingAndGlyphs" >100</text>
<rect x="119.25" y="1015.24" width="6.18" height="5.64" fill="#fff"/>
<rect x="130.31" y="1015.24" width="5.78" height="5.64" fill="#fff"/>
<text x="154.01" y="1083.97" font-size="32.69" fill="#000" stroke="#000" stroke-width="0.5" stroke-linejoin="round" textLength="17.32" lengthAdjust="spacingAndGlyphs" >0</text>
<text x="0" y="0" font-size="37.6" stroke="#000" stroke-width="0.5" text-anchor="middle" textLength="119.34" lengthAdjust="spacingAndGlyphs" transform="translate(101 993) rotate(-90)">Counts</text>
<path d="M199.20,1290.30 L199.20,1201.30 L207.46,1201.30 L207.46,1172.03 L223.99,1172.03 L223.99,1142.40 L240.52,1142.40 L240.52,1116.53 L257.06,1116.53 L257.06,1130.65 L273.58,1130.65 L273.58,1150.38 L290.12,1150.38 L290.12,1110.19 L306.64,1110.19 L306.64,1128.64 L323.17,1128.64 L323.17,1131.39 L339.70,1131.39 L339.70,1170.29 L356.24,1170.29 L356.24,1189.19 L372.76,1189.19 L372.76,1210.48 L389.29,1210.48 L389.29,1193.60 L405.82,1193.60 L405.82,1205.34 L422.35,1205.34 L422.35,1218.18 L438.88,1218.18 L438.88,1223.51 L455.41,1223.51 L455.41,1237.09 L471.94,1237.09 L471.94,1237.09 L488.48,1237.09 L488.48,1228.64 L505.00,1228.64 L505.00,1237.09 L521.53,1237.09 L521.53,1237.09 L538.07,1237.09 L538.07,1232.59 L554.60,1232.59 L554.60,1235.25 L571.12,1235.25 L571.12,1238.00 L587.65,1238.00 L587.65,1239.38 L604.18,1239.38 L604.18,1246.63 L620.71,1246.63 L620.71,1238.55 L637.24,1238.55 L637.24,1242.04 L653.77,1242.04 L653.77,1247.45 L670.31,1247.45 L670.31,1254.24 L686.84,1254.24 L686.84,1256.90 L703.37,1256.90 L703.37,1246.08 L719.89,1246.08 L719.89,1258.28 L736.42,1258.28 L736.42,1290.30 Z" fill="#d9d9d9"/>
<path d="M199.20,1180.34 L201.70,1177.69 L204.21,1175.05 L206.71,1172.43 L209.22,1169.85 L211.72,1167.29 L214.23,1164.77 L216.73,1162.29 L219.24,1159.86 L221.74,1157.47 L224.25,1155.14 L226.75,1152.87 L229.25,1150.66 L231.76,1148.51 L234.26,1146.44 L236.77,1144.44 L239.27,1142.52 L241.78,1140.68 L244.28,1138.93 L246.79,1137.27 L249.29,1135.70 L251.80,1134.23 L254.30,1132.85 L256.80,1131.58 L259.31,1130.41 L261.81,1129.35 L264.32,1128.40 L266.82,1127.56 L269.33,1126.83 L271.83,1126.22 L274.34,1125.72 L276.84,1125.34 L279.35,1125.08 L281.85,1124.93 L284.35,1124.91 L286.86,1125.00 L289.36,1125.21 L291.87,1125.53 L294.37,1125.97 L296.88,1126.53 L299.38,1127.20 L301.89,1127.98 L304.39,1128.87 L306.90,1129.87 L309.40,1130.98 L311.90,1132.18 L314.41,1133.49 L316.91,1134.90 L319.42,1136.39 L321.92,1137.98 L324.43,1139.65 L326.93,1141.41 L329.44,1143.24 L331.94,1145.15 L334.45,1147.13 L336.95,1149.17 L339.45,1151.27 L341.96,1153.43 L344.46,1155.63 L346.97,1157.89 L349.47,1160.18 L351.98,1162.51 L354.48,1164.87 L356.99,1167.25 L359.49,1169.65 L362.00,1172.07 L364.50,1174.50 L367.00,1176.93 L369.51,1179.36 L372.01,1181.78 L374.52,1184.19 L377.02,1186.59 L379.53,1188.97 L382.03,1191.32 L384.54,1193.64 L387.04,1195.92 L389.55,1198.17 L392.05,1200.37 L394.55,1202.53 L397.06,1204.63 L399.56,1206.68 L402.07,1208.67 L404.57,1210.60 L407.08,1212.47 L409.58,1214.26 L412.09,1215.99 L414.59,1217.65 L417.10,1219.23 L419.60,1220.74 L422.10,1222.17 L424.61,1223.53 L427.11,1224.80 L429.62,1226.00 L432.12,1227.11 L434.63,1228.15 L437.13,1229.11 L439.64,1229.99 L442.14,1230.79 L444.65,1231.52 L447.15,1232.17 L449.65,1232.75 L452.16,1233.26 L454.66,1233.70 L457.17,1234.07 L459.67,1234.39 L462.18,1234.64 L464.68,1234.83 L467.19,1234.98 L469.69,1235.07 L472.20,1235.12 L474.70,1235.13 L477.20,1235.10 L479.71,1235.04 L482.21,1234.95 L484.72,1234.83 L487.22,1234.70 L489.73,1234.55 L492.23,1234.39 L494.74,1234.23 L497.24,1234.07 L499.75,1233.90 L502.25,1233.75 L504.75,1233.61 L507.26,1233.49 L509.76,1233.38 L512.27,1233.30 L514.77,1233.24 L517.28,1233.22 L519.78,1233.23 L522.29,1233.28 L524.79,1233.37 L527.30,1233.49 L529.80,1233.67 L532.30,1233.89 L534.81,1234.15 L537.31,1234.46 L539.82,1234.83 L542.32,1235.24 L544.83,1235.71 L547.33,1236.22 L549.84,1236.79 L552.34,1237.40 L554.85,1238.06 L557.35,1238.78 L559.85,1239.53 L562.36,1240.34 L564.86,1241.18 L567.37,1242.07 L569.87,1243.00 L572.38,1243.96 L574.88,1244.96 L577.39,1245.99 L579.89,1247.05 L582.40,1248.13 L584.90,1249.24 L587.40,1250.37 L589.91,1251.51 L592.41,1252.67 L594.92,1253.84 L597.42,1255.02 L599.93,1256.20 L602.43,1257.38 L604.94,1258.57 L607.44,1259.75 L609.95,1260.92 L612.45,1262.08 L614.95,1263.24 L617.46,1264.37 L619.96,1265.50 L622.47,1266.60 L624.97,1267.69 L627.48,1268.75 L629.98,1269.79 L632.49,1270.81 L634.99,1271.79 L637.50,1272.76 L640.00,1273.69 L642.50,1274.59 L645.01,1275.47 L647.51,1276.31 L650.02,1277.12 L652.52,1277.91 L655.03,1278.66 L657.53,1279.38 L660.04,1280.06 L662.54,1280.72 L665.05,1281.35 L667.55,1281.95 L670.05,1282.51 L672.56,1283.05 L675.06,1283.56 L677.57,1284.05 L680.07,1284.50 L682.58,1284.93 L685.08,1285.33 L687.59,1285.71 L690.09,1286.07 L692.60,1286.40 L695.10,1286.72 L697.60,1287.01 L700.11,1287.28 L702.61,1287.53 L705.12,1287.77 L707.62,1287.99 L710.13,1288.19 L712.63,1288.37 L715.14,1288.55 L717.64,1288.71 L720.15,1288.85 L722.65,1288.99 L725.15,1289.11 L727.66,1289.23 L730.16,1289.33 L732.67,1289.43 L735.17,1289.51 L737.68,1289.59 L740.18,1289.66 L742.69,1289.73 L745.19,1289.79 L747.70,1289.84 L750.20,1289.89" fill="none" stroke="#e83624" stroke-width="5.4" stroke-linecap="butt" stroke-linejoin="round"/>
<path d="M199.20,1180.34 L201.70,1177.69 L204.21,1175.05 L206.71,1172.43 L209.22,1169.85 L211.72,1167.29 L214.23,1164.77 L216.73,1162.29 L219.24,1159.86 L221.74,1157.47 L224.25,1155.14 L226.75,1152.87 L229.25,1150.66 L231.76,1148.52 L234.26,1146.44 L236.77,1144.44 L239.27,1142.53 L241.78,1140.69 L244.28,1138.94 L246.79,1137.28 L249.29,1135.71 L251.80,1134.24 L254.30,1132.86 L256.80,1131.59 L259.31,1130.43 L261.81,1129.37 L264.32,1128.42 L266.82,1127.59 L269.33,1126.86 L271.83,1126.25 L274.34,1125.76 L276.84,1125.39 L279.35,1125.13 L281.85,1124.99 L284.35,1124.97 L286.86,1125.07 L289.36,1125.29 L291.87,1125.63 L294.37,1126.08 L296.88,1126.66 L299.38,1127.34 L301.89,1128.14 L304.39,1129.06 L306.90,1130.08 L309.40,1131.21 L311.90,1132.45 L314.41,1133.79 L316.91,1135.23 L319.42,1136.76 L321.92,1138.40 L324.43,1140.12 L326.93,1141.93 L329.44,1143.82 L331.94,1145.80 L334.45,1147.84 L336.95,1149.97 L339.45,1152.16 L341.96,1154.41 L344.46,1156.72 L346.97,1159.09 L349.47,1161.51 L351.98,1163.97 L354.48,1166.48 L356.99,1169.02 L359.49,1171.60 L362.00,1174.21 L364.50,1176.84 L367.00,1179.49 L369.51,1182.16 L372.01,1184.84 L374.52,1187.52 L377.02,1190.21 L379.53,1192.90 L382.03,1195.59 L384.54,1198.27 L387.04,1200.93 L389.55,1203.59 L392.05,1206.22 L394.55,1208.83 L397.06,1211.42 L399.56,1213.98 L402.07,1216.51 L404.57,1219.01 L407.08,1221.47 L409.58,1223.90 L412.09,1226.29 L414.59,1228.63 L417.10,1230.93 L419.60,1233.19 L422.10,1235.40 L424.61,1237.57 L427.11,1239.68 L429.62,1241.74 L432.12,1243.76 L434.63,1245.72 L437.13,1247.63 L439.64,1249.49 L442.14,1251.30 L444.65,1253.05 L447.15,1254.75 L449.65,1256.39 L452.16,1257.99 L454.66,1259.53 L457.17,1261.01 L459.67,1262.45 L462.18,1263.84 L464.68,1265.17 L467.19,1266.45 L469.69,1267.69 L472.20,1268.87 L474.70,1270.01 L477.20,1271.10 L479.71,1272.15 L482.21,1273.15 L484.72,1274.11 L487.22,1275.03 L489.73,1275.90 L492.23,1276.73 L494.74,1277.53 L497.24,1278.29 L499.75,1279.01 L502.25,1279.69 L504.75,1280.34 L507.26,1280.96 L509.76,1281.54 L512.27,1282.10 L514.77,1282.62 L517.28,1283.12 L519.78,1283.59 L522.29,1284.03 L524.79,1284.45 L527.30,1284.84 L529.80,1285.21 L532.30,1285.56 L534.81,1285.89 L537.31,1286.20 L539.82,1286.49 L542.32,1286.76 L544.83,1287.02 L547.33,1287.26 L549.84,1287.48 L552.34,1287.69 L554.85,1287.88 L557.35,1288.07 L559.85,1288.24 L562.36,1288.39 L564.86,1288.54 L567.37,1288.68 L569.87,1288.81 L572.38,1288.92 L574.88,1289.03 L577.39,1289.14 L579.89,1289.23 L582.40,1289.32 L584.90,1289.40 L587.40,1289.48 L589.91,1289.54 L592.41,1289.61 L594.92,1289.67 L597.42,1289.72 L599.93,1289.77 L602.43,1289.82 L604.94,1289.86 L607.44,1289.90 L609.95,1289.93 L612.45,1289.97 L614.95,1290.00 L617.46,1290.03 L619.96,1290.05 L622.47,1290.07 L624.97,1290.09 L627.48,1290.11 L629.98,1290.13 L632.49,1290.15 L634.99,1290.16 L637.50,1290.18 L640.00,1290.19 L642.50,1290.20 L645.01,1290.21 L647.51,1290.22 L650.02,1290.23 L652.52,1290.23 L655.03,1290.24 L657.53,1290.25 L660.04,1290.25 L662.54,1290.26 L665.05,1290.26 L667.55,1290.27 L670.05,1290.27 L672.56,1290.27 L675.06,1290.28 L677.57,1290.28 L680.07,1290.28 L682.58,1290.28 L685.08,1290.28 L687.59,1290.29 L690.09,1290.29 L692.60,1290.29 L695.10,1290.29 L697.60,1290.29 L700.11,1290.29 L702.61,1290.29 L705.12,1290.29 L707.62,1290.29 L710.13,1290.30 L712.63,1290.30 L715.14,1290.30 L717.64,1290.30 L720.15,1290.30 L722.65,1290.30 L725.15,1290.30 L727.66,1290.30 L730.16,1290.30 L732.67,1290.30 L735.17,1290.30 L737.68,1290.30 L740.18,1290.30 L742.69,1290.30 L745.19,1290.30 L747.70,1290.30 L750.20,1290.30" fill="none" stroke="#000" stroke-width="5.3" stroke-linecap="round" stroke-linejoin="round" stroke-dasharray="0 8.06"/>
<path d="M199.20,1290.30 L201.70,1290.30 L204.21,1290.30 L206.71,1290.30 L209.22,1290.30 L211.72,1290.30 L214.23,1290.30 L216.73,1290.30 L219.24,1290.30 L221.74,1290.30 L224.25,1290.30 L226.75,1290.30 L229.25,1290.30 L231.76,1290.30 L234.26,1290.30 L236.77,1290.30 L239.27,1290.30 L241.78,1290.29 L244.28,1290.29 L246.79,1290.29 L249.29,1290.29 L251.80,1290.29 L254.30,1290.29 L256.80,1290.29 L259.31,1290.28 L261.81,1290.28 L264.32,1290.28 L266.82,1290.27 L269.33,1290.27 L271.83,1290.27 L274.34,1290.26 L276.84,1290.26 L279.35,1290.25 L281.85,1290.24 L284.35,1290.23 L286.86,1290.22 L289.36,1290.21 L291.87,1290.20 L294.37,1290.19 L296.88,1290.17 L299.38,1290.16 L301.89,1290.14 L304.39,1290.12 L306.90,1290.09 L309.40,1290.07 L311.90,1290.04 L314.41,1290.01 L316.91,1289.97 L319.42,1289.93 L321.92,1289.88 L324.43,1289.83 L326.93,1289.78 L329.44,1289.72 L331.94,1289.65 L334.45,1289.58 L336.95,1289.50 L339.45,1289.41 L341.96,1289.32 L344.46,1289.21 L346.97,1289.10 L349.47,1288.97 L351.98,1288.83 L354.48,1288.69 L356.99,1288.52 L359.49,1288.35 L362.00,1288.16 L364.50,1287.96 L367.00,1287.74 L369.51,1287.50 L372.01,1287.25 L374.52,1286.97 L377.02,1286.68 L379.53,1286.36 L382.03,1286.03 L384.54,1285.67 L387.04,1285.29 L389.55,1284.88 L392.05,1284.45 L394.55,1283.99 L397.06,1283.51 L399.56,1283.00 L402.07,1282.46 L404.57,1281.89 L407.08,1281.29 L409.58,1280.66 L412.09,1280.01 L414.59,1279.32 L417.10,1278.60 L419.60,1277.85 L422.10,1277.07 L424.61,1276.26 L427.11,1275.42 L429.62,1274.55 L432.12,1273.66 L434.63,1272.73 L437.13,1271.78 L439.64,1270.80 L442.14,1269.80 L444.65,1268.77 L447.15,1267.72 L449.65,1266.66 L452.16,1265.57 L454.66,1264.47 L457.17,1263.36 L459.67,1262.23 L462.18,1261.10 L464.68,1259.96 L467.19,1258.82 L469.69,1257.68 L472.20,1256.54 L474.70,1255.41 L477.20,1254.29 L479.71,1253.18 L482.21,1252.09 L484.72,1251.02 L487.22,1249.97 L489.73,1248.95 L492.23,1247.96 L494.74,1247.00 L497.24,1246.08 L499.75,1245.20 L502.25,1244.36 L504.75,1243.57 L507.26,1242.83 L509.76,1242.14 L512.27,1241.50 L514.77,1240.92 L517.28,1240.40 L519.78,1239.94 L522.29,1239.55 L524.79,1239.22 L527.30,1238.95 L529.80,1238.75 L532.30,1238.62 L534.81,1238.56 L537.31,1238.56 L539.82,1238.64 L542.32,1238.78 L544.83,1238.99 L547.33,1239.27 L549.84,1239.61 L552.34,1240.01 L554.85,1240.48 L557.35,1241.01 L559.85,1241.60 L562.36,1242.24 L564.86,1242.94 L567.37,1243.69 L569.87,1244.49 L572.38,1245.34 L574.88,1246.23 L577.39,1247.15 L579.89,1248.12 L582.40,1249.11 L584.90,1250.14 L587.40,1251.19 L589.91,1252.27 L592.41,1253.36 L594.92,1254.47 L597.42,1255.59 L599.93,1256.73 L602.43,1257.86 L604.94,1259.01 L607.44,1260.15 L609.95,1261.28 L612.45,1262.41 L614.95,1263.54 L617.46,1264.65 L619.96,1265.75 L622.47,1266.83 L624.97,1267.89 L627.48,1268.94 L629.98,1269.96 L632.49,1270.96 L634.99,1271.93 L637.50,1272.88 L640.00,1273.80 L642.50,1274.69 L645.01,1275.56 L647.51,1276.39 L650.02,1277.20 L652.52,1277.97 L655.03,1278.72 L657.53,1279.43 L660.04,1280.11 L662.54,1280.77 L665.05,1281.39 L667.55,1281.98 L670.05,1282.55 L672.56,1283.08 L675.06,1283.59 L677.57,1284.07 L680.07,1284.52 L682.58,1284.95 L685.08,1285.35 L687.59,1285.73 L690.09,1286.08 L692.60,1286.42 L695.10,1286.73 L697.60,1287.02 L700.11,1287.29 L702.61,1287.54 L705.12,1287.77 L707.62,1287.99 L710.13,1288.19 L712.63,1288.38 L715.14,1288.55 L717.64,1288.71 L720.15,1288.86 L722.65,1288.99 L725.15,1289.12 L727.66,1289.23 L730.16,1289.33 L732.67,1289.43 L735.17,1289.51 L737.68,1289.59 L740.18,1289.66 L742.69,1289.73 L745.19,1289.79 L747.70,1289.84 L750.20,1289.89" fill="none" stroke="#000" stroke-width="5.3" stroke-linecap="round" stroke-linejoin="round" stroke-dasharray="0 8.06"/>
<text x="574.07" y="1143.67" font-size="36.89" fill="#000" stroke="#000" stroke-width="0.5" stroke-linejoin="round" textLength="177.86" lengthAdjust="spacingAndGlyphs" >Mz bound</text>
<line x1="177.9" y1="1106.80" x2="199.2" y2="1106.80" stroke="#000" stroke-width="5.0" stroke-linecap="butt"/>
<line x1="188" y1="1152.67" x2="199.2" y2="1152.67" stroke="#000" stroke-width="5.0" stroke-linecap="butt"/>
<line x1="177.9" y1="1198.55" x2="199.2" y2="1198.55" stroke="#000" stroke-width="5.0" stroke-linecap="butt"/>
<line x1="188" y1="1244.42" x2="199.2" y2="1244.42" stroke="#000" stroke-width="5.0" stroke-linecap="butt"/>
<text x="118.24" y="1121.27" font-size="32.69" fill="#000" stroke="#000" stroke-width="0.5" stroke-linejoin="round" textLength="53.20" lengthAdjust="spacingAndGlyphs" >200</text>
<text x="118.24" y="1212.88" font-size="32.69" fill="#000" stroke="#000" stroke-width="0.5" stroke-linejoin="round" textLength="53.19" lengthAdjust="spacingAndGlyphs" >100</text>
<rect x="119.25" y="1208.44" width="6.18" height="5.64" fill="#fff"/>
<rect x="130.31" y="1208.44" width="5.78" height="5.64" fill="#fff"/>
<text x="154.01" y="1304.88" font-size="32.69" fill="#000" stroke="#000" stroke-width="0.5" stroke-linejoin="round" textLength="17.32" lengthAdjust="spacingAndGlyphs" >0</text>
<text x="0" y="0" font-size="37.6" stroke="#000" stroke-width="0.5" text-anchor="middle" textLength="119.34" lengthAdjust="spacingAndGlyphs" transform="translate(101 1189) rotate(-90)">Counts</text>
<line x1="199.1" y1="508.3" x2="199.1" y2="1292.9" stroke="#000" stroke-width="5.2" stroke-linecap="butt"/>
<line x1="177.9" y1="1290.3" x2="752.7" y2="1290.3" stroke="#000" stroke-width="5.2" stroke-linecap="butt"/>
<line x1="199.20" y1="1290.3" x2="199.20" y2="1310.3" stroke="#000" stroke-width="5.0" stroke-linecap="butt"/>
<line x1="254.30" y1="1290.3" x2="254.30" y2="1302" stroke="#000" stroke-width="5.0" stroke-linecap="butt"/>
<line x1="309.40" y1="1290.3" x2="309.40" y2="1302" stroke="#000" stroke-width="5.0" stroke-linecap="butt"/>
<line x1="364.50" y1="1290.3" x2="364.50" y2="1302" stroke="#000" stroke-width="5.0" stroke-linecap="butt"/>
<line x1="419.60" y1="1290.3" x2="419.60" y2="1302" stroke="#000" stroke-width="5.0" stroke-linecap="butt"/>
<line x1="474.70" y1="1290.3" x2="474.70" y2="1310.3" stroke="#000" stroke-width="5.0" stroke-linecap="butt"/>
<line x1="529.80" y1="1290.3" x2="529.80" y2="1302" stroke="#000" stroke-width="5.0" stroke-linecap="butt"/>
<line x1="584.90" y1="1290.3" x2="584.90" y2="1302" stroke="#000" stroke-width="5.0" stroke-linecap="butt"/>
<line x1="640.00" y1="1290.3" x2="640.00" y2="1302" stroke="#000" stroke-width="5.0" stroke-linecap="butt"/>
<line x1="695.10" y1="1290.3" x2="695.10" y2="1302" stroke="#000" stroke-width="5.0" stroke-linecap="butt"/>
<line x1="750.20" y1="1290.3" x2="750.20" y2="1310.3" stroke="#000" stroke-width="5.0" stroke-linecap="butt"/>
<text x="189.96" y="1342.78" font-size="32.69" fill="#000" stroke="#000" stroke-width="0.5" stroke-linejoin="round" textLength="17.32" lengthAdjust="spacingAndGlyphs" >0</text>
<text x="451.84" y="1342.78" font-size="32.69" fill="#000" stroke="#000" stroke-width="0.5" stroke-linejoin="round" textLength="44.24" lengthAdjust="spacingAndGlyphs" >0.5</text>
<text x="728.07" y="1342.78" font-size="32.69" fill="#000" stroke="#000" stroke-width="0.5" stroke-linejoin="round" textLength="44.22" lengthAdjust="spacingAndGlyphs" >1.0</text>
<rect x="729.08" y="1338.34" width="6.17" height="5.64" fill="#fff"/>
<rect x="740.11" y="1338.34" width="5.77" height="5.64" fill="#fff"/>
<text x="394.03" y="1383.78" font-size="34.89" fill="#000" stroke="#000" stroke-width="0.5" stroke-linejoin="round" textLength="161.37" lengthAdjust="spacingAndGlyphs" >Efficiency</text>
</svg>
</body></html>
